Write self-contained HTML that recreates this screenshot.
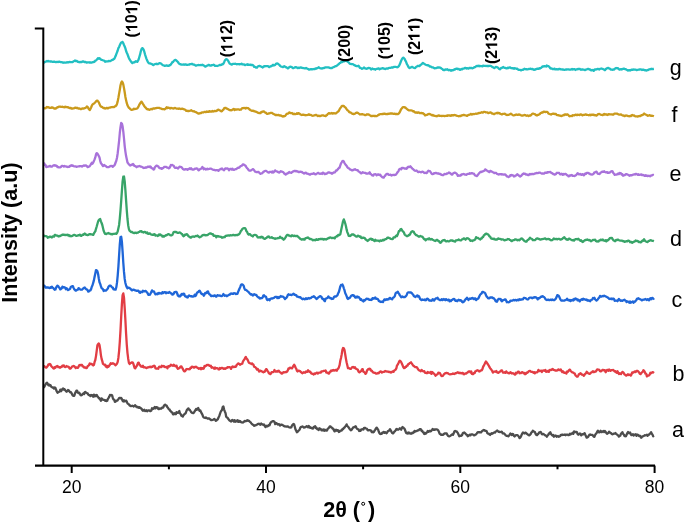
<!DOCTYPE html>
<html><head><meta charset="utf-8"><style>
html,body{margin:0;padding:0;background:#fff;}
svg{display:block;will-change:transform;}
text{font-family:"Liberation Sans",sans-serif;fill:#000;}
.tl{font-size:17.5px;}
.cl{font-size:21.5px;}
.ml{font-size:16px;font-weight:bold;}
.at{font-size:21.6px;font-weight:bold;}
</style></head><body>
<svg width="685" height="523" viewBox="0 0 685 523">
<rect width="685" height="523" fill="#fff"/>
<polyline fill="none" stroke="#4D4D4D" stroke-width="2.3" stroke-linejoin="round" points="43.5,387.6 44.2,386.9 44.9,385.6 45.6,384.3 46.3,383.2 47.0,382.7 47.7,383.9 48.4,385.3 49.1,384.5 49.8,385.5 50.5,385.1 51.2,386.7 51.9,387.0 52.6,387.7 53.3,387.5 54.0,388.6 54.7,387.4 55.4,387.8 56.1,389.8 56.8,391.5 57.5,392.7 58.2,392.2 58.9,392.0 59.6,391.3 60.3,389.6 61.0,391.2 61.7,390.3 62.4,388.9 63.1,388.4 63.8,389.6 64.5,389.2 65.2,390.3 65.9,391.1 66.6,391.8 67.3,391.1 68.0,390.0 68.7,390.3 69.4,391.4 70.1,392.3 70.8,392.0 71.5,393.1 72.2,394.6 72.9,395.7 73.6,395.9 74.3,395.8 75.0,393.4 75.7,392.2 76.4,390.6 77.1,390.6 77.8,392.5 78.5,393.0 79.2,392.7 79.9,393.8 80.6,395.1 81.3,395.3 82.0,394.9 82.7,394.0 83.4,393.5 84.1,394.0 84.8,392.1 85.5,392.0 86.2,392.7 86.9,393.1 87.6,393.4 88.3,394.6 89.0,395.1 89.7,395.2 90.4,396.1 91.1,394.9 91.8,395.6 92.5,395.2 93.2,396.7 93.9,394.7 94.6,396.4 95.3,395.2 96.0,396.1 96.7,394.9 97.4,396.2 98.1,397.0 98.8,398.3 99.5,398.2 100.2,399.5 100.9,400.8 101.6,398.4 102.3,399.0 103.0,399.9 103.7,399.9 104.4,399.9 105.1,400.7 105.8,400.2 106.5,401.1 107.2,400.8 107.9,398.9 108.6,397.8 109.3,396.6 110.0,394.9 110.7,395.4 111.4,395.0 112.1,395.3 112.8,397.9 113.5,399.4 114.2,399.7 114.9,401.9 115.6,401.7 116.3,400.6 117.0,400.7 117.7,400.2 118.4,399.2 119.1,398.1 119.8,397.8 120.5,398.3 121.2,397.9 121.9,399.0 122.6,400.7 123.3,401.5 124.0,400.2 124.7,401.4 125.4,401.2 126.1,400.6 126.8,401.7 127.5,403.4 128.2,404.0 128.9,404.3 129.6,405.5 130.3,405.4 131.0,406.2 131.7,406.0 132.4,405.7 133.1,406.0 133.8,406.5 134.5,405.8 135.2,405.2 135.9,406.5 136.6,406.3 137.3,407.4 138.0,407.0 138.7,407.8 139.4,407.1 140.1,407.7 140.8,408.2 141.5,408.7 142.2,409.9 142.9,410.7 143.6,410.2 144.3,409.8 145.0,411.0 145.7,410.9 146.4,410.2 147.1,411.2 147.8,410.7 148.5,410.3 149.2,410.3 149.9,411.1 150.6,411.1 151.3,410.6 152.0,408.3 152.7,408.8 153.4,408.9 154.1,408.0 154.8,406.9 155.5,408.4 156.2,407.1 156.9,407.5 157.6,407.5 158.3,409.0 159.0,409.0 159.7,408.5 160.4,408.4 161.1,408.8 161.8,408.1 162.5,407.3 163.2,407.5 163.9,405.8 164.6,404.8 165.3,404.7 166.0,405.6 166.7,405.7 167.4,407.2 168.1,408.0 168.8,409.3 169.5,409.3 170.2,410.9 170.9,411.3 171.6,412.2 172.3,412.6 173.0,414.4 173.7,414.4 174.4,413.3 175.1,413.6 175.8,414.3 176.5,412.2 177.2,412.5 177.9,412.9 178.6,412.1 179.3,411.0 180.0,413.5 180.7,414.1 181.4,415.7 182.1,416.1 182.8,416.6 183.5,415.0 184.2,414.5 184.9,413.8 185.6,413.3 186.3,411.4 187.0,409.8 187.7,409.1 188.4,408.4 189.1,409.6 189.8,409.9 190.5,411.0 191.2,412.1 191.9,412.8 192.6,412.9 193.3,413.2 194.0,412.5 194.7,411.2 195.4,410.3 196.1,408.9 196.8,409.7 197.5,409.3 198.2,408.0 198.9,409.6 199.6,410.8 200.3,410.4 201.0,411.9 201.7,413.4 202.4,414.6 203.1,416.7 203.8,417.4 204.5,417.7 205.2,418.0 205.9,417.4 206.6,417.9 207.3,418.5 208.0,418.6 208.7,418.3 209.4,418.8 210.1,419.3 210.8,420.0 211.5,420.0 212.2,420.0 212.9,419.8 213.6,419.4 214.3,418.9 215.0,419.5 215.7,420.8 216.4,420.7 217.1,419.7 217.8,419.2 218.5,417.5 219.2,416.2 219.9,414.1 220.6,412.0 221.3,410.8 222.0,410.0 222.7,407.0 223.4,406.4 224.1,409.6 224.8,411.4 225.5,412.9 226.2,416.7 226.9,417.4 227.6,417.7 228.3,419.0 229.0,419.9 229.7,420.6 230.4,421.1 231.1,421.5 231.8,420.3 232.5,419.9 233.2,420.9 233.9,421.6 234.6,420.1 235.3,421.7 236.0,421.3 236.7,421.4 237.4,420.2 238.1,421.9 238.8,420.8 239.5,421.7 240.2,421.1 240.9,422.0 241.6,422.4 242.3,422.4 243.0,422.5 243.7,422.1 244.4,421.1 245.1,420.9 245.8,421.3 246.5,421.0 247.2,420.1 247.9,420.8 248.6,420.6 249.3,421.2 250.0,421.9 250.7,422.4 251.4,423.5 252.1,424.1 252.8,424.8 253.5,424.8 254.2,425.9 254.9,425.3 255.6,425.4 256.3,424.8 257.0,424.7 257.7,424.1 258.4,423.8 259.1,423.7 259.8,424.5 260.5,424.8 261.2,423.5 261.9,424.1 262.6,424.3 263.3,425.0 264.0,424.4 264.7,425.6 265.4,427.1 266.1,426.4 266.8,425.7 267.5,426.4 268.2,425.8 268.9,424.9 269.6,425.2 270.3,423.2 271.0,422.3 271.7,421.7 272.4,421.4 273.1,421.1 273.8,421.4 274.5,421.7 275.2,424.1 275.9,423.2 276.6,423.1 277.3,424.0 278.0,424.5 278.7,424.1 279.4,424.5 280.1,425.5 280.8,424.9 281.5,424.6 282.2,424.9 282.9,425.3 283.6,425.7 284.3,426.2 285.0,426.5 285.7,426.3 286.4,426.7 287.1,426.6 287.8,426.3 288.5,426.9 289.2,427.3 289.9,427.5 290.6,427.5 291.3,427.3 292.0,425.6 292.7,424.8 293.4,424.0 294.1,424.3 294.8,426.7 295.5,429.4 296.2,430.7 296.9,432.2 297.6,431.7 298.3,430.9 299.0,430.2 299.7,429.4 300.4,427.5 301.1,426.8 301.8,426.8 302.5,426.4 303.2,427.0 303.9,427.6 304.6,427.4 305.3,427.1 306.0,426.8 306.7,426.1 307.4,426.8 308.1,427.3 308.8,426.0 309.5,426.7 310.2,427.8 310.9,427.5 311.6,428.1 312.3,428.4 313.0,428.6 313.7,427.0 314.4,427.0 315.1,426.1 315.8,428.1 316.5,427.8 317.2,429.1 317.9,429.3 318.6,430.1 319.3,428.3 320.0,429.1 320.7,429.0 321.4,430.2 322.1,429.6 322.8,430.4 323.5,429.5 324.2,430.7 324.9,429.8 325.6,430.2 326.3,430.7 327.0,430.5 327.7,428.7 328.4,428.4 329.1,427.5 329.8,426.4 330.5,426.3 331.2,427.4 331.9,427.6 332.6,428.7 333.3,428.7 334.0,430.6 334.7,431.4 335.4,430.1 336.1,429.7 336.8,430.7 337.5,430.2 338.2,430.4 338.9,432.0 339.6,431.7 340.3,430.7 341.0,430.6 341.7,430.6 342.4,429.1 343.1,429.2 343.8,427.9 344.5,427.6 345.2,426.5 345.9,425.8 346.6,424.4 347.3,426.1 348.0,426.6 348.7,427.5 349.4,428.7 350.1,429.4 350.8,430.3 351.5,429.9 352.2,428.8 352.9,427.8 353.6,427.3 354.3,427.0 355.0,427.1 355.7,426.3 356.4,427.8 357.1,428.8 357.8,429.2 358.5,429.3 359.2,431.0 359.9,430.6 360.6,430.8 361.3,429.3 362.0,429.5 362.7,429.2 363.4,429.5 364.1,427.8 364.8,427.8 365.5,428.3 366.2,428.5 366.9,428.8 367.6,430.1 368.3,430.4 369.0,430.2 369.7,430.1 370.4,430.3 371.1,430.8 371.8,432.1 372.5,431.7 373.2,432.3 373.9,431.8 374.6,430.7 375.3,429.6 376.0,428.3 376.7,427.6 377.4,428.7 378.1,429.5 378.8,431.8 379.5,433.3 380.2,434.1 380.9,433.7 381.6,433.9 382.3,432.7 383.0,432.6 383.7,431.9 384.4,432.8 385.1,432.2 385.8,432.8 386.5,433.2 387.2,432.4 387.9,431.2 388.6,431.0 389.3,430.2 390.0,429.2 390.7,430.3 391.4,431.6 392.1,432.8 392.8,433.4 393.5,433.1 394.2,431.7 394.9,431.3 395.6,430.4 396.3,429.1 397.0,429.0 397.7,429.7 398.4,429.6 399.1,429.0 399.8,428.3 400.5,429.0 401.2,429.7 401.9,427.8 402.6,427.0 403.3,427.7 404.0,428.3 404.7,429.1 405.4,431.0 406.1,432.9 406.8,433.3 407.5,433.5 408.2,432.5 408.9,433.3 409.6,432.8 410.3,433.5 411.0,433.8 411.7,433.4 412.4,432.6 413.1,433.0 413.8,432.4 414.5,430.9 415.2,431.6 415.9,431.1 416.6,431.1 417.3,430.5 418.0,430.5 418.7,430.2 419.4,429.4 420.1,429.1 420.8,429.1 421.5,430.8 422.2,430.7 422.9,432.3 423.6,432.3 424.3,434.0 425.0,433.0 425.7,433.7 426.4,432.9 427.1,432.2 427.8,430.9 428.5,431.8 429.2,431.4 429.9,430.7 430.6,431.4 431.3,430.8 432.0,430.0 432.7,429.0 433.4,429.9 434.1,429.6 434.8,429.8 435.5,429.3 436.2,429.3 436.9,429.4 437.6,429.8 438.3,430.6 439.0,432.0 439.7,433.8 440.4,434.2 441.1,434.8 441.8,434.6 442.5,434.9 443.2,434.9 443.9,434.0 444.6,433.5 445.3,433.5 446.0,433.3 446.7,433.4 447.4,434.9 448.1,436.0 448.8,436.3 449.5,436.3 450.2,436.0 450.9,435.4 451.6,434.7 452.3,434.4 453.0,434.9 453.7,433.2 454.4,431.4 455.1,430.9 455.8,431.3 456.5,431.3 457.2,432.2 457.9,433.2 458.6,434.7 459.3,436.3 460.0,435.8 460.7,435.7 461.4,435.9 462.1,435.0 462.8,433.3 463.5,432.8 464.2,432.5 464.9,432.9 465.6,433.7 466.3,434.6 467.0,434.8 467.7,436.2 468.4,435.9 469.1,435.2 469.8,434.7 470.5,435.2 471.2,434.3 471.9,434.3 472.6,434.4 473.3,434.9 474.0,435.4 474.7,435.2 475.4,434.6 476.1,434.4 476.8,433.4 477.5,432.3 478.2,432.1 478.9,432.3 479.6,432.2 480.3,432.4 481.0,432.4 481.7,431.6 482.4,430.7 483.1,430.4 483.8,430.0 484.5,430.2 485.2,430.8 485.9,430.8 486.6,431.0 487.3,433.1 488.0,433.6 488.7,433.6 489.4,434.4 490.1,435.0 490.8,433.9 491.5,433.3 492.2,433.8 492.9,433.1 493.6,433.0 494.3,432.3 495.0,432.5 495.7,431.5 496.4,431.2 497.1,430.5 497.8,430.9 498.5,431.8 499.2,431.6 499.9,432.2 500.6,432.0 501.3,431.7 502.0,431.9 502.7,433.4 503.4,433.3 504.1,433.4 504.8,434.2 505.5,435.2 506.2,435.6 506.9,435.9 507.6,435.8 508.3,436.3 509.0,435.7 509.7,434.7 510.4,433.5 511.1,434.5 511.8,435.1 512.5,434.0 513.2,434.1 513.9,435.9 514.6,436.5 515.3,435.8 516.0,435.1 516.7,435.1 517.4,435.1 518.1,435.8 518.8,436.5 519.5,438.1 520.2,437.7 520.9,436.7 521.6,434.8 522.3,433.4 523.0,432.5 523.7,432.9 524.4,433.5 525.1,432.6 525.8,432.6 526.5,433.6 527.2,433.9 527.9,434.6 528.6,435.1 529.3,435.3 530.0,434.8 530.7,434.0 531.4,432.4 532.1,432.0 532.8,430.7 533.5,431.2 534.2,431.7 534.9,432.0 535.6,433.8 536.3,435.0 537.0,435.2 537.7,434.3 538.4,433.8 539.1,432.5 539.8,432.5 540.5,431.9 541.2,432.6 541.9,434.2 542.6,434.3 543.3,433.9 544.0,434.4 544.7,435.0 545.4,435.4 546.1,435.7 546.8,436.7 547.5,435.6 548.2,435.0 548.9,433.5 549.6,433.5 550.3,432.2 551.0,434.0 551.7,434.8 552.4,435.6 553.1,434.9 553.8,436.7 554.5,436.3 555.2,435.5 555.9,435.7 556.6,436.7 557.3,436.3 558.0,436.0 558.7,436.8 559.4,436.4 560.1,436.0 560.8,435.0 561.5,435.0 562.2,434.6 562.9,435.0 563.6,434.8 564.3,434.9 565.0,434.4 565.7,435.2 566.4,434.6 567.1,434.7 567.8,434.7 568.5,435.2 569.2,434.9 569.9,433.8 570.6,434.5 571.3,433.6 572.0,433.5 572.7,432.8 573.4,433.8 574.1,431.4 574.8,431.9 575.5,432.0 576.2,431.9 576.9,432.1 577.6,434.0 578.3,434.7 579.0,434.1 579.7,433.5 580.4,433.7 581.1,435.4 581.8,434.7 582.5,434.2 583.2,434.4 583.9,433.9 584.6,433.1 585.3,434.8 586.0,436.2 586.7,437.7 587.4,437.5 588.1,436.9 588.8,435.7 589.5,434.7 590.2,434.5 590.9,434.9 591.6,434.9 592.3,434.9 593.0,435.6 593.7,436.6 594.4,436.8 595.1,435.0 595.8,433.9 596.5,433.2 597.2,431.7 597.9,430.7 598.6,432.1 599.3,432.4 600.0,431.7 600.7,430.8 601.4,432.1 602.1,432.1 602.8,431.3 603.5,431.0 604.2,432.1 604.9,431.0 605.6,431.7 606.3,433.0 607.0,433.8 607.7,433.3 608.4,432.9 609.1,431.7 609.8,432.3 610.5,433.0 611.2,433.1 611.9,434.2 612.6,434.3 613.3,434.0 614.0,433.6 614.7,433.7 615.4,433.0 616.1,433.8 616.8,434.4 617.5,435.0 618.2,435.4 618.9,436.6 619.6,435.9 620.3,435.6 621.0,433.7 621.7,433.1 622.4,432.1 623.1,433.9 623.8,434.5 624.5,436.0 625.2,435.7 625.9,436.3 626.6,434.8 627.3,433.1 628.0,432.0 628.7,433.0 629.4,433.1 630.1,432.5 630.8,434.3 631.5,435.2 632.2,435.0 632.9,434.1 633.6,435.6 634.3,434.6 635.0,434.6 635.7,434.3 636.4,435.9 637.1,434.7 637.8,434.6 638.5,435.5 639.2,436.0 639.9,435.7 640.6,436.8 641.3,437.7 642.0,436.8 642.7,436.3 643.4,436.1 644.1,435.7 644.8,435.2 645.5,435.3 646.2,435.2 646.9,434.8 647.6,435.8 648.3,434.9 649.0,434.6 649.7,433.9 650.4,433.2 651.1,432.2 651.8,433.7 652.5,434.6 653.2,436.3 653.9,437.0"/><polyline fill="none" stroke="#E23D44" stroke-width="2.3" stroke-linejoin="round" points="43.5,366.0 44.2,366.1 44.9,366.8 45.6,367.4 46.3,367.6 47.0,366.9 47.7,366.0 48.4,364.4 49.1,364.7 49.8,364.0 50.5,364.5 51.2,366.0 51.9,366.9 52.6,367.4 53.3,368.3 54.0,368.6 54.7,367.1 55.4,367.7 56.1,366.5 56.8,366.2 57.5,366.0 58.2,367.2 58.9,367.0 59.6,367.5 60.3,367.6 61.0,366.9 61.7,366.8 62.4,365.6 63.1,366.1 63.8,365.4 64.5,366.7 65.2,367.1 65.9,366.6 66.6,366.0 67.3,366.6 68.0,366.7 68.7,366.8 69.4,368.2 70.1,368.7 70.8,368.3 71.5,367.3 72.2,366.3 72.9,366.4 73.6,365.9 74.3,366.3 75.0,367.1 75.7,368.0 76.4,367.5 77.1,367.5 77.8,367.9 78.5,366.8 79.2,365.3 79.9,364.9 80.6,365.3 81.3,364.8 82.0,364.9 82.7,366.4 83.4,366.5 84.1,367.5 84.8,367.4 85.5,367.5 86.2,368.1 86.9,367.9 87.6,366.2 88.3,365.8 89.0,365.1 89.7,363.4 90.4,364.0 91.1,364.0 91.8,363.9 92.5,364.9 93.2,365.5 93.9,364.9 94.6,361.9 95.3,360.0 96.0,356.1 96.7,350.8 97.4,345.3 98.1,344.0 98.8,343.4 99.5,345.0 100.2,349.4 100.9,355.1 101.6,358.9 102.3,361.1 103.0,363.9 103.7,364.4 104.4,364.9 105.1,364.7 105.8,366.6 106.5,365.9 107.2,367.4 107.9,365.9 108.6,366.7 109.3,365.7 110.0,364.6 110.7,363.3 111.4,363.9 112.1,363.5 112.8,363.2 113.5,363.7 114.2,363.9 114.9,364.7 115.6,365.3 116.3,364.4 117.0,363.7 117.7,361.9 118.4,357.7 119.1,351.1 119.8,341.9 120.5,330.4 121.2,316.6 121.9,304.1 122.6,295.1 123.3,293.4 124.0,297.7 124.7,308.2 125.4,320.3 126.1,333.7 126.8,345.0 127.5,353.1 128.2,358.7 128.9,362.9 129.6,364.0 130.3,363.1 131.0,362.9 131.7,362.3 132.4,362.3 133.1,363.1 133.8,365.1 134.5,367.8 135.2,368.4 135.9,367.1 136.6,366.2 137.3,364.6 138.0,362.9 138.7,362.7 139.4,364.7 140.1,365.0 140.8,366.4 141.5,366.7 142.2,366.8 142.9,365.8 143.6,367.4 144.3,367.2 145.0,367.3 145.7,367.6 146.4,368.1 147.1,367.8 147.8,367.3 148.5,367.4 149.2,366.8 149.9,367.1 150.6,366.7 151.3,367.2 152.0,366.6 152.7,366.8 153.4,366.1 154.1,365.7 154.8,366.2 155.5,368.3 156.2,368.6 156.9,368.6 157.6,368.4 158.3,368.7 159.0,366.9 159.7,366.7 160.4,367.0 161.1,367.1 161.8,365.8 162.5,366.2 163.2,366.5 163.9,365.9 164.6,366.7 165.3,367.2 166.0,367.0 166.7,366.8 167.4,368.4 168.1,366.3 168.8,366.1 169.5,366.5 170.2,365.9 170.9,364.7 171.6,365.3 172.3,365.4 173.0,365.9 173.7,364.8 174.4,365.2 175.1,366.1 175.8,366.3 176.5,365.6 177.2,367.8 177.9,368.8 178.6,368.3 179.3,368.1 180.0,367.4 180.7,366.4 181.4,366.4 182.1,367.7 182.8,368.8 183.5,370.4 184.2,371.4 184.9,371.3 185.6,370.5 186.3,369.2 187.0,369.0 187.7,369.2 188.4,369.2 189.1,369.3 189.8,369.2 190.5,367.7 191.2,367.8 191.9,366.6 192.6,366.8 193.3,367.1 194.0,367.8 194.7,366.9 195.4,367.0 196.1,366.7 196.8,367.5 197.5,367.7 198.2,368.2 198.9,368.8 199.6,368.5 200.3,367.9 201.0,369.2 201.7,368.0 202.4,368.2 203.1,368.8 203.8,368.4 204.5,366.0 205.2,366.5 205.9,365.9 206.6,365.1 207.3,364.9 208.0,365.1 208.7,365.0 209.4,365.8 210.1,366.0 210.8,365.7 211.5,367.7 212.2,367.2 212.9,367.7 213.6,367.8 214.3,368.7 215.0,367.5 215.7,368.5 216.4,368.2 217.1,368.2 217.8,368.3 218.5,369.4 219.2,369.4 219.9,368.0 220.6,368.7 221.3,368.1 222.0,367.8 222.7,368.0 223.4,368.8 224.1,368.3 224.8,368.8 225.5,368.8 226.2,368.1 226.9,367.9 227.6,367.1 228.3,367.3 229.0,367.2 229.7,367.1 230.4,367.6 231.1,368.9 231.8,367.3 232.5,366.4 233.2,366.9 233.9,367.1 234.6,366.6 235.3,366.9 236.0,366.6 236.7,364.9 237.4,364.2 238.1,363.4 238.8,363.6 239.5,364.2 240.2,364.8 240.9,364.1 241.6,363.9 242.3,363.7 243.0,361.3 243.7,360.3 244.4,359.4 245.1,357.9 245.8,356.9 246.5,358.5 247.2,359.1 247.9,360.3 248.6,362.2 249.3,363.0 250.0,363.3 250.7,363.3 251.4,364.1 252.1,363.4 252.8,364.3 253.5,364.8 254.2,366.8 254.9,366.8 255.6,367.5 256.3,368.4 257.0,369.6 257.7,368.9 258.4,370.0 259.1,371.6 259.8,370.8 260.5,370.7 261.2,371.2 261.9,371.4 262.6,372.0 263.3,372.3 264.0,371.7 264.7,371.9 265.4,370.3 266.1,369.1 266.8,369.5 267.5,370.9 268.2,371.7 268.9,373.3 269.6,373.4 270.3,374.1 271.0,373.4 271.7,372.2 272.4,372.1 273.1,372.1 273.8,371.6 274.5,370.0 275.2,371.6 275.9,371.6 276.6,371.5 277.3,371.0 278.0,371.6 278.7,370.7 279.4,371.7 280.1,372.3 280.8,372.6 281.5,373.6 282.2,373.6 282.9,372.7 283.6,372.1 284.3,372.4 285.0,372.3 285.7,371.9 286.4,372.1 287.1,371.6 287.8,370.4 288.5,368.5 289.2,368.7 289.9,367.6 290.6,368.0 291.3,368.1 292.0,368.3 292.7,367.2 293.4,365.8 294.1,364.8 294.8,365.7 295.5,367.5 296.2,368.7 296.9,370.7 297.6,371.5 298.3,370.7 299.0,370.6 299.7,371.1 300.4,371.4 301.1,372.2 301.8,372.8 302.5,373.3 303.2,372.6 303.9,372.1 304.6,372.6 305.3,372.6 306.0,371.5 306.7,371.8 307.4,371.8 308.1,370.3 308.8,371.3 309.5,371.8 310.2,371.7 310.9,372.9 311.6,373.6 312.3,373.6 313.0,374.1 313.7,374.5 314.4,373.4 315.1,374.0 315.8,373.3 316.5,372.9 317.2,372.6 317.9,373.5 318.6,372.8 319.3,372.6 320.0,372.7 320.7,372.6 321.4,371.4 322.1,371.4 322.8,371.4 323.5,370.9 324.2,370.8 324.9,370.9 325.6,370.4 326.3,372.6 327.0,372.5 327.7,372.7 328.4,373.6 329.1,373.6 329.8,371.9 330.5,371.6 331.2,370.4 331.9,371.0 332.6,370.3 333.3,369.9 334.0,370.7 334.7,370.5 335.4,370.0 336.1,370.1 336.8,370.7 337.5,369.1 338.2,368.7 338.9,367.2 339.6,365.1 340.3,360.8 341.0,358.0 341.7,354.4 342.4,349.9 343.1,348.0 343.8,348.3 344.5,349.9 345.2,354.2 345.9,358.6 346.6,362.2 347.3,365.2 348.0,368.2 348.7,368.1 349.4,368.4 350.1,368.8 350.8,368.9 351.5,368.1 352.2,367.2 352.9,367.0 353.6,367.1 354.3,367.9 355.0,367.3 355.7,368.6 356.4,369.0 357.1,369.3 357.8,369.8 358.5,371.5 359.2,372.4 359.9,372.0 360.6,371.5 361.3,370.9 362.0,369.3 362.7,369.1 363.4,371.7 364.1,372.0 364.8,372.6 365.5,373.8 366.2,373.3 366.9,370.9 367.6,369.7 368.3,369.0 369.0,369.4 369.7,368.6 370.4,369.1 371.1,370.7 371.8,370.7 372.5,371.8 373.2,372.6 373.9,372.7 374.6,372.9 375.3,373.0 376.0,373.5 376.7,373.6 377.4,373.4 378.1,372.8 378.8,373.2 379.5,372.2 380.2,371.6 380.9,371.4 381.6,372.5 382.3,372.4 383.0,371.8 383.7,371.8 384.4,371.8 385.1,371.0 385.8,371.3 386.5,371.4 387.2,371.7 387.9,371.5 388.6,371.9 389.3,372.1 390.0,371.8 390.7,372.5 391.4,372.4 392.1,371.7 392.8,371.3 393.5,371.9 394.2,370.5 394.9,370.2 395.6,369.6 396.3,368.4 397.0,365.5 397.7,364.6 398.4,363.3 399.1,361.7 399.8,360.6 400.5,361.1 401.2,362.1 401.9,363.7 402.6,365.3 403.3,367.2 404.0,368.2 404.7,368.0 405.4,367.0 406.1,366.9 406.8,365.7 407.5,365.7 408.2,364.2 408.9,364.0 409.6,363.1 410.3,362.9 411.0,362.3 411.7,363.4 412.4,364.4 413.1,365.5 413.8,366.0 414.5,366.5 415.2,367.1 415.9,367.1 416.6,367.1 417.3,367.9 418.0,369.2 418.7,370.2 419.4,370.4 420.1,370.8 420.8,371.2 421.5,370.0 422.2,370.5 422.9,371.1 423.6,371.3 424.3,371.2 425.0,372.7 425.7,372.9 426.4,373.0 427.1,373.1 427.8,371.9 428.5,372.7 429.2,372.8 429.9,372.4 430.6,371.9 431.3,373.9 432.0,372.0 432.7,372.5 433.4,373.5 434.1,373.7 434.8,374.5 435.5,375.7 436.2,375.1 436.9,374.5 437.6,374.2 438.3,372.7 439.0,372.8 439.7,372.9 440.4,374.0 441.1,375.6 441.8,376.1 442.5,375.9 443.2,375.6 443.9,374.2 444.6,373.8 445.3,373.2 446.0,373.0 446.7,373.0 447.4,373.1 448.1,373.4 448.8,374.0 449.5,374.3 450.2,374.3 450.9,374.2 451.6,374.2 452.3,374.0 453.0,373.5 453.7,373.7 454.4,374.0 455.1,373.3 455.8,373.5 456.5,372.8 457.2,372.6 457.9,372.2 458.6,372.9 459.3,373.2 460.0,372.7 460.7,373.0 461.4,373.4 462.1,372.8 462.8,372.8 463.5,374.2 464.2,374.3 464.9,373.5 465.6,373.3 466.3,373.6 467.0,372.7 467.7,372.4 468.4,371.6 469.1,371.4 469.8,371.3 470.5,372.5 471.2,371.4 471.9,373.9 472.6,374.1 473.3,374.0 474.0,372.8 474.7,373.0 475.4,371.3 476.1,371.0 476.8,370.5 477.5,370.2 478.2,370.5 478.9,371.3 479.6,371.5 480.3,370.6 481.0,370.5 481.7,370.3 482.4,369.1 483.1,366.9 483.8,365.7 484.5,364.3 485.2,362.8 485.9,361.5 486.6,362.3 487.3,363.4 488.0,364.6 488.7,365.4 489.4,366.9 490.1,368.1 490.8,369.0 491.5,369.9 492.2,371.0 492.9,372.6 493.6,371.7 494.3,371.7 495.0,371.5 495.7,371.8 496.4,371.0 497.1,372.4 497.8,372.6 498.5,372.9 499.2,372.0 499.9,371.7 500.6,370.9 501.3,370.4 502.0,370.4 502.7,372.2 503.4,372.7 504.1,372.6 504.8,372.1 505.5,372.9 506.2,371.4 506.9,372.4 507.6,372.6 508.3,373.2 509.0,373.3 509.7,373.1 510.4,372.1 511.1,372.8 511.8,373.5 512.5,373.2 513.2,373.3 513.9,373.8 514.6,374.5 515.3,374.5 516.0,372.8 516.7,373.3 517.4,372.4 518.1,371.6 518.8,371.6 519.5,373.2 520.2,372.9 520.9,373.2 521.6,372.5 522.3,372.1 523.0,372.7 523.7,373.3 524.4,372.9 525.1,374.2 525.8,373.9 526.5,372.7 527.2,372.8 527.9,372.3 528.6,371.4 529.3,371.1 530.0,370.8 530.7,371.6 531.4,371.8 532.1,372.0 532.8,372.0 533.5,372.8 534.2,372.1 534.9,373.3 535.6,372.5 536.3,372.4 537.0,372.3 537.7,371.8 538.4,369.9 539.1,370.8 539.8,371.1 540.5,370.8 541.2,370.6 541.9,372.0 542.6,370.6 543.3,370.6 544.0,370.4 544.7,370.9 545.4,369.9 546.1,371.8 546.8,371.3 547.5,371.6 548.2,370.7 548.9,371.9 549.6,370.3 550.3,369.8 551.0,369.8 551.7,370.0 552.4,368.9 553.1,369.3 553.8,370.0 554.5,370.2 555.2,370.5 555.9,370.4 556.6,370.7 557.3,370.5 558.0,369.6 558.7,369.4 559.4,370.2 560.1,370.0 560.8,369.5 561.5,371.1 562.2,372.0 562.9,371.3 563.6,372.2 564.3,372.9 565.0,372.6 565.7,372.7 566.4,373.6 567.1,371.5 567.8,371.9 568.5,370.8 569.2,370.0 569.9,369.6 570.6,370.9 571.3,371.5 572.0,372.4 572.7,372.4 573.4,372.7 574.1,373.3 574.8,373.6 575.5,375.4 576.2,376.0 576.9,376.6 577.6,376.6 578.3,375.5 579.0,374.1 579.7,374.0 580.4,373.1 581.1,373.6 581.8,374.7 582.5,374.6 583.2,375.2 583.9,375.8 584.6,374.6 585.3,373.8 586.0,373.2 586.7,371.8 587.4,372.4 588.1,373.2 588.8,373.5 589.5,373.9 590.2,373.7 590.9,372.6 591.6,372.4 592.3,371.8 593.0,371.3 593.7,372.2 594.4,371.9 595.1,371.6 595.8,371.5 596.5,370.5 597.2,369.4 597.9,369.7 598.6,369.6 599.3,369.8 600.0,371.1 600.7,371.3 601.4,371.1 602.1,370.2 602.8,369.8 603.5,370.1 604.2,370.5 604.9,370.2 605.6,372.2 606.3,371.3 607.0,370.0 607.7,370.0 608.4,370.8 609.1,369.5 609.8,369.9 610.5,370.9 611.2,370.2 611.9,370.1 612.6,370.1 613.3,369.9 614.0,370.7 614.7,371.5 615.4,371.1 616.1,372.3 616.8,372.7 617.5,371.2 618.2,372.8 618.9,374.0 619.6,373.2 620.3,373.7 621.0,374.1 621.7,372.7 622.4,371.9 623.1,372.2 623.8,373.1 624.5,374.4 625.2,374.7 625.9,375.5 626.6,375.5 627.3,374.7 628.0,374.3 628.7,375.0 629.4,374.9 630.1,374.6 630.8,375.6 631.5,374.4 632.2,372.4 632.9,372.5 633.6,372.5 634.3,371.6 635.0,371.5 635.7,372.1 636.4,371.0 637.1,371.0 637.8,370.9 638.5,371.7 639.2,372.6 639.9,373.8 640.6,374.1 641.3,373.1 642.0,372.2 642.7,371.9 643.4,370.3 644.1,370.7 644.8,372.0 645.5,373.7 646.2,373.9 646.9,376.4 647.6,375.7 648.3,375.7 649.0,375.4 649.7,374.5 650.4,372.8 651.1,373.3 651.8,372.6 652.5,372.1 653.2,372.4 653.9,373.1"/><polyline fill="none" stroke="#1F66D8" stroke-width="2.3" stroke-linejoin="round" points="43.5,286.0 44.2,285.6 44.9,286.4 45.6,287.6 46.3,287.4 47.0,287.6 47.7,287.3 48.4,287.7 49.1,287.9 49.8,288.1 50.5,287.3 51.2,287.7 51.9,286.7 52.6,287.5 53.3,288.1 54.0,289.0 54.7,289.8 55.4,289.5 56.1,287.5 56.8,286.4 57.5,285.6 58.2,286.1 58.9,287.3 59.6,287.9 60.3,289.4 61.0,289.0 61.7,288.4 62.4,286.6 63.1,287.5 63.8,287.1 64.5,287.3 65.2,287.7 65.9,289.2 66.6,288.2 67.3,289.1 68.0,290.1 68.7,289.7 69.4,289.3 70.1,288.8 70.8,286.9 71.5,286.7 72.2,286.2 72.9,286.1 73.6,287.9 74.3,289.3 75.0,289.9 75.7,290.7 76.4,290.4 77.1,289.8 77.8,289.7 78.5,288.2 79.2,288.3 79.9,289.3 80.6,289.6 81.3,289.7 82.0,289.6 82.7,289.0 83.4,288.2 84.1,287.8 84.8,287.5 85.5,288.6 86.2,289.3 86.9,289.4 87.6,290.3 88.3,291.6 89.0,291.4 89.7,290.4 90.4,290.4 91.1,289.1 91.8,286.7 92.5,285.3 93.2,282.9 93.9,280.4 94.6,276.8 95.3,273.4 96.0,270.1 96.7,270.4 97.4,271.3 98.1,274.0 98.8,278.5 99.5,282.2 100.2,283.9 100.9,286.2 101.6,288.1 102.3,288.6 103.0,289.3 103.7,291.0 104.4,290.4 105.1,290.6 105.8,290.7 106.5,289.9 107.2,289.3 107.9,288.4 108.6,286.5 109.3,285.9 110.0,285.6 110.7,285.6 111.4,286.7 112.1,287.3 112.8,287.5 113.5,289.4 114.2,289.3 114.9,289.6 115.6,289.7 116.3,287.3 117.0,282.7 117.7,275.6 118.4,266.6 119.1,255.3 119.8,244.3 120.5,237.0 121.2,236.7 121.9,241.8 122.6,251.6 123.3,262.7 124.0,271.9 124.7,278.9 125.4,283.0 126.1,285.5 126.8,287.2 127.5,288.3 128.2,287.6 128.9,287.7 129.6,288.0 130.3,288.8 131.0,289.3 131.7,290.3 132.4,290.3 133.1,289.6 133.8,289.9 134.5,290.0 135.2,290.4 135.9,290.5 136.6,290.9 137.3,290.9 138.0,290.6 138.7,291.0 139.4,292.4 140.1,292.8 140.8,291.7 141.5,292.2 142.2,292.2 142.9,290.8 143.6,291.1 144.3,291.4 145.0,291.2 145.7,290.9 146.4,291.8 147.1,292.4 147.8,293.6 148.5,294.9 149.2,294.3 149.9,294.7 150.6,293.5 151.3,292.1 152.0,290.4 152.7,291.5 153.4,291.3 154.1,291.6 154.8,293.3 155.5,294.3 156.2,294.1 156.9,293.6 157.6,294.3 158.3,293.0 159.0,293.5 159.7,293.0 160.4,293.3 161.1,293.3 161.8,293.6 162.5,292.1 163.2,293.0 163.9,292.5 164.6,292.1 165.3,292.1 166.0,293.2 166.7,292.5 167.4,292.7 168.1,292.9 168.8,292.5 169.5,292.0 170.2,292.7 170.9,293.4 171.6,293.5 172.3,294.7 173.0,294.5 173.7,293.8 174.4,292.1 175.1,292.2 175.8,291.9 176.5,291.9 177.2,293.5 177.9,295.5 178.6,296.3 179.3,295.8 180.0,296.5 180.7,295.7 181.4,294.2 182.1,293.9 182.8,294.6 183.5,293.6 184.2,293.8 184.9,296.0 185.6,296.5 186.3,296.4 187.0,297.3 187.7,297.5 188.4,296.0 189.1,295.5 189.8,296.0 190.5,296.2 191.2,296.5 191.9,296.1 192.6,296.6 193.3,296.6 194.0,296.2 194.7,294.6 195.4,296.0 196.1,295.2 196.8,293.1 197.5,292.2 198.2,292.2 198.9,291.1 199.6,290.7 200.3,291.8 201.0,293.2 201.7,294.0 202.4,293.8 203.1,294.6 203.8,295.7 204.5,294.7 205.2,292.8 205.9,292.9 206.6,293.1 207.3,291.6 208.0,291.5 208.7,293.4 209.4,294.3 210.1,294.5 210.8,295.7 211.5,296.2 212.2,295.8 212.9,295.9 213.6,296.0 214.3,295.5 215.0,295.4 215.7,296.5 216.4,296.6 217.1,295.5 217.8,295.1 218.5,295.6 219.2,295.6 219.9,295.5 220.6,296.0 221.3,296.2 222.0,296.2 222.7,295.2 223.4,294.0 224.1,295.2 224.8,295.8 225.5,295.5 226.2,295.4 226.9,296.2 227.6,295.5 228.3,295.3 229.0,294.8 229.7,294.7 230.4,293.8 231.1,293.4 231.8,293.8 232.5,293.6 233.2,293.9 233.9,293.2 234.6,293.4 235.3,293.4 236.0,294.1 236.7,293.7 237.4,293.8 238.1,291.9 238.8,290.3 239.5,288.5 240.2,287.2 240.9,285.1 241.6,284.4 242.3,284.4 243.0,284.9 243.7,285.9 244.4,288.5 245.1,289.8 245.8,289.9 246.5,290.2 247.2,290.9 247.9,291.5 248.6,292.1 249.3,292.9 250.0,293.8 250.7,294.5 251.4,294.1 252.1,294.8 252.8,295.6 253.5,294.7 254.2,294.2 254.9,294.7 255.6,294.9 256.3,294.9 257.0,296.2 257.7,296.8 258.4,297.5 259.1,297.5 259.8,298.5 260.5,298.4 261.2,298.1 261.9,298.1 262.6,297.5 263.3,295.6 264.0,295.3 264.7,296.4 265.4,296.5 266.1,297.0 266.8,299.4 267.5,300.1 268.2,299.5 268.9,299.2 269.6,300.2 270.3,298.8 271.0,298.7 271.7,298.4 272.4,298.5 273.1,298.2 273.8,297.9 274.5,297.5 275.2,296.8 275.9,296.9 276.6,297.0 277.3,298.0 278.0,296.9 278.7,298.0 279.4,297.5 280.1,296.6 280.8,296.0 281.5,296.7 282.2,296.5 282.9,296.7 283.6,297.1 284.3,298.1 285.0,299.0 285.7,298.2 286.4,297.7 287.1,296.8 287.8,295.0 288.5,294.3 289.2,294.7 289.9,294.8 290.6,294.7 291.3,295.1 292.0,294.8 292.7,294.5 293.4,293.6 294.1,294.1 294.8,294.9 295.5,295.0 296.2,295.1 296.9,296.6 297.6,296.6 298.3,296.8 299.0,297.1 299.7,297.4 300.4,297.2 301.1,298.1 301.8,298.6 302.5,299.3 303.2,298.6 303.9,298.9 304.6,299.3 305.3,299.1 306.0,298.1 306.7,299.0 307.4,298.9 308.1,298.2 308.8,298.0 309.5,298.5 310.2,298.2 310.9,298.1 311.6,297.2 312.3,296.9 313.0,296.9 313.7,296.2 314.4,296.7 315.1,297.4 315.8,298.3 316.5,299.0 317.2,298.6 317.9,297.5 318.6,297.3 319.3,296.6 320.0,296.1 320.7,296.4 321.4,296.8 322.1,298.5 322.8,299.0 323.5,298.9 324.2,300.6 324.9,301.2 325.6,298.8 326.3,298.4 327.0,298.2 327.7,297.5 328.4,296.4 329.1,297.6 329.8,297.6 330.5,298.4 331.2,298.1 331.9,299.0 332.6,298.8 333.3,298.6 334.0,296.9 334.7,296.4 335.4,296.5 336.1,296.5 336.8,295.8 337.5,295.2 338.2,293.2 338.9,291.9 339.6,289.2 340.3,286.4 341.0,285.0 341.7,285.4 342.4,284.5 343.1,285.9 343.8,288.3 344.5,290.2 345.2,293.0 345.9,294.4 346.6,296.2 347.3,298.2 348.0,299.0 348.7,298.0 349.4,298.2 350.1,297.4 350.8,296.3 351.5,295.5 352.2,295.2 352.9,295.1 353.6,295.9 354.3,295.7 355.0,297.2 355.7,297.7 356.4,297.5 357.1,296.5 357.8,297.3 358.5,296.9 359.2,297.5 359.9,298.6 360.6,299.8 361.3,299.3 362.0,300.5 362.7,300.8 363.4,301.5 364.1,300.0 364.8,300.5 365.5,299.7 366.2,298.9 366.9,298.7 367.6,299.1 368.3,298.9 369.0,299.6 369.7,299.8 370.4,299.7 371.1,300.0 371.8,299.7 372.5,298.2 373.2,298.1 373.9,298.7 374.6,298.0 375.3,297.4 376.0,298.8 376.7,298.7 377.4,298.8 378.1,299.4 378.8,301.0 379.5,301.0 380.2,301.8 380.9,302.0 381.6,301.7 382.3,301.6 383.0,302.1 383.7,300.5 384.4,299.4 385.1,299.5 385.8,300.0 386.5,299.3 387.2,299.7 387.9,299.2 388.6,299.3 389.3,298.2 390.0,297.9 390.7,298.6 391.4,298.9 392.1,299.4 392.8,298.0 393.5,297.6 394.2,297.0 394.9,295.8 395.6,293.3 396.3,292.6 397.0,292.5 397.7,291.6 398.4,293.0 399.1,293.7 399.8,295.3 400.5,296.1 401.2,297.2 401.9,296.8 402.6,296.5 403.3,297.2 404.0,297.2 404.7,297.2 405.4,296.4 406.1,296.1 406.8,294.7 407.5,292.9 408.2,292.4 408.9,292.3 409.6,292.5 410.3,292.5 411.0,292.5 411.7,292.9 412.4,294.0 413.1,294.6 413.8,296.1 414.5,296.3 415.2,297.0 415.9,296.5 416.6,296.1 417.3,295.4 418.0,296.6 418.7,296.0 419.4,297.2 420.1,299.0 420.8,299.4 421.5,300.1 422.2,299.4 422.9,299.8 423.6,299.8 424.3,300.0 425.0,299.5 425.7,300.2 426.4,299.7 427.1,298.6 427.8,298.8 428.5,299.5 429.2,300.5 429.9,300.4 430.6,300.7 431.3,300.8 432.0,300.4 432.7,299.2 433.4,299.6 434.1,300.6 434.8,299.4 435.5,298.8 436.2,298.3 436.9,298.2 437.6,297.8 438.3,299.4 439.0,299.3 439.7,300.1 440.4,300.2 441.1,299.9 441.8,299.1 442.5,300.1 443.2,299.8 443.9,299.0 444.6,299.6 445.3,300.3 446.0,299.1 446.7,299.6 447.4,300.3 448.1,300.0 448.8,299.6 449.5,301.4 450.2,300.5 450.9,301.0 451.6,300.0 452.3,299.8 453.0,299.3 453.7,298.9 454.4,299.1 455.1,300.5 455.8,300.9 456.5,300.4 457.2,301.2 457.9,300.4 458.6,299.7 459.3,300.0 460.0,300.5 460.7,300.1 461.4,300.6 462.1,301.8 462.8,302.3 463.5,301.8 464.2,301.4 464.9,300.1 465.6,299.2 466.3,298.7 467.0,297.7 467.7,298.9 468.4,300.0 469.1,299.1 469.8,298.5 470.5,298.9 471.2,298.4 471.9,298.6 472.6,297.9 473.3,298.5 474.0,299.2 474.7,298.3 475.4,298.4 476.1,300.1 476.8,299.5 477.5,298.9 478.2,298.7 478.9,297.4 479.6,295.8 480.3,294.5 481.0,293.9 481.7,293.3 482.4,291.8 483.1,291.9 483.8,292.3 484.5,292.5 485.2,293.2 485.9,295.1 486.6,296.5 487.3,297.0 488.0,298.2 488.7,298.3 489.4,298.4 490.1,297.4 490.8,297.7 491.5,297.3 492.2,297.4 492.9,298.1 493.6,298.1 494.3,298.9 495.0,299.8 495.7,301.4 496.4,300.8 497.1,301.7 497.8,299.9 498.5,299.0 499.2,298.9 499.9,299.2 500.6,299.0 501.3,300.7 502.0,301.3 502.7,300.1 503.4,300.1 504.1,299.9 504.8,299.3 505.5,299.3 506.2,300.7 506.9,302.3 507.6,302.0 508.3,302.3 509.0,302.2 509.7,301.8 510.4,300.6 511.1,300.8 511.8,300.7 512.5,300.6 513.2,300.0 513.9,300.0 514.6,300.4 515.3,299.8 516.0,300.2 516.7,300.6 517.4,299.8 518.1,299.7 518.8,300.2 519.5,299.1 520.2,299.8 520.9,299.4 521.6,299.5 522.3,299.4 523.0,299.3 523.7,297.9 524.4,297.8 525.1,298.0 525.8,298.3 526.5,298.9 527.2,299.3 527.9,299.5 528.6,298.7 529.3,297.8 530.0,297.7 530.7,297.6 531.4,297.6 532.1,298.3 532.8,297.9 533.5,297.6 534.2,297.1 534.9,297.6 535.6,297.2 536.3,297.6 537.0,298.1 537.7,299.4 538.4,298.2 539.1,298.4 539.8,297.8 540.5,297.2 541.2,296.5 541.9,296.8 542.6,296.1 543.3,296.7 544.0,297.0 544.7,297.7 545.4,299.1 546.1,299.7 546.8,300.0 547.5,299.9 548.2,299.6 548.9,300.0 549.6,300.1 550.3,299.8 551.0,299.5 551.7,300.1 552.4,299.5 553.1,299.9 553.8,300.2 554.5,300.1 555.2,299.3 555.9,298.6 556.6,297.1 557.3,295.1 558.0,295.4 558.7,295.8 559.4,297.1 560.1,298.8 560.8,299.9 561.5,300.7 562.2,300.5 562.9,300.6 563.6,300.6 564.3,300.7 565.0,300.1 565.7,300.1 566.4,299.6 567.1,298.6 567.8,300.1 568.5,300.2 569.2,300.6 569.9,299.9 570.6,301.1 571.3,300.1 572.0,300.3 572.7,299.8 573.4,300.5 574.1,298.9 574.8,299.5 575.5,298.5 576.2,298.9 576.9,299.1 577.6,300.4 578.3,299.7 579.0,300.2 579.7,301.4 580.4,300.3 581.1,299.7 581.8,299.2 582.5,299.7 583.2,298.6 583.9,299.5 584.6,299.2 585.3,299.6 586.0,299.8 586.7,299.5 587.4,300.6 588.1,300.5 588.8,300.2 589.5,300.9 590.2,301.2 590.9,300.1 591.6,299.6 592.3,299.6 593.0,298.0 593.7,298.4 594.4,297.7 595.1,299.3 595.8,300.0 596.5,300.6 597.2,300.0 597.9,299.2 598.6,298.2 599.3,297.4 600.0,295.9 600.7,296.4 601.4,296.7 602.1,296.3 602.8,296.0 603.5,296.3 604.2,295.6 604.9,296.1 605.6,296.5 606.3,296.7 607.0,297.1 607.7,297.6 608.4,297.9 609.1,298.8 609.8,299.0 610.5,298.9 611.2,298.4 611.9,299.2 612.6,298.7 613.3,298.6 614.0,299.0 614.7,300.9 615.4,300.7 616.1,300.7 616.8,300.6 617.5,301.3 618.2,299.9 618.9,298.9 619.6,299.7 620.3,300.7 621.0,300.9 621.7,300.4 622.4,300.9 623.1,300.2 623.8,300.2 624.5,299.7 625.2,300.7 625.9,300.8 626.6,302.1 627.3,301.4 628.0,301.7 628.7,301.8 629.4,302.7 630.1,301.4 630.8,302.7 631.5,302.1 632.2,302.1 632.9,301.4 633.6,302.7 634.3,301.6 635.0,301.7 635.7,300.8 636.4,300.1 637.1,298.6 637.8,298.6 638.5,298.2 639.2,298.9 639.9,299.2 640.6,299.3 641.3,300.0 642.0,300.4 642.7,299.9 643.4,299.6 644.1,299.7 644.8,299.3 645.5,299.0 646.2,299.6 646.9,300.0 647.6,299.1 648.3,299.5 649.0,300.4 649.7,299.2 650.4,298.1 651.1,299.2 651.8,298.1 652.5,297.9 653.2,298.5 653.9,299.8"/><polyline fill="none" stroke="#38A468" stroke-width="2.3" stroke-linejoin="round" points="43.5,236.3 44.2,235.7 44.9,236.1 45.6,236.1 46.3,236.2 47.0,236.5 47.7,237.7 48.4,237.1 49.1,237.3 49.8,236.6 50.5,236.6 51.2,237.2 51.9,237.5 52.6,236.4 53.3,236.6 54.0,236.7 54.7,235.0 55.4,235.0 56.1,235.5 56.8,235.7 57.5,235.6 58.2,236.3 58.9,236.5 59.6,235.9 60.3,236.0 61.0,235.4 61.7,235.3 62.4,234.6 63.1,234.9 63.8,234.7 64.5,234.9 65.2,235.1 65.9,234.8 66.6,235.0 67.3,234.7 68.0,235.3 68.7,234.9 69.4,236.1 70.1,235.6 70.8,236.3 71.5,236.2 72.2,235.9 72.9,235.5 73.6,235.1 74.3,234.8 75.0,235.0 75.7,235.7 76.4,235.8 77.1,235.6 77.8,235.5 78.5,235.2 79.2,235.3 79.9,234.6 80.6,235.6 81.3,235.9 82.0,235.3 82.7,234.6 83.4,234.8 84.1,234.3 84.8,233.5 85.5,234.3 86.2,234.8 86.9,234.8 87.6,235.2 88.3,235.0 89.0,234.4 89.7,234.1 90.4,234.2 91.1,234.4 91.8,234.4 92.5,234.6 93.2,234.9 93.9,233.4 94.6,232.3 95.3,231.4 96.0,228.8 96.7,226.5 97.4,224.0 98.1,221.5 98.8,220.0 99.5,219.4 100.2,219.0 100.9,221.4 101.6,223.0 102.3,225.0 103.0,227.9 103.7,230.9 104.4,232.6 105.1,233.8 105.8,234.0 106.5,234.0 107.2,233.3 107.9,233.3 108.6,233.0 109.3,233.6 110.0,233.6 110.7,234.2 111.4,234.0 112.1,234.4 112.8,234.0 113.5,233.9 114.2,233.8 114.9,233.7 115.6,233.5 116.3,233.9 117.0,233.1 117.7,231.4 118.4,228.2 119.1,224.9 119.8,218.4 120.5,210.3 121.2,200.9 121.9,190.9 122.6,181.3 123.3,176.7 124.0,176.5 124.7,181.4 125.4,190.1 126.1,200.7 126.8,210.7 127.5,219.0 128.2,225.4 128.9,229.1 129.6,230.8 130.3,231.2 131.0,232.1 131.7,231.8 132.4,232.2 133.1,232.7 133.8,233.1 134.5,233.0 135.2,232.6 135.9,232.8 136.6,233.1 137.3,232.7 138.0,232.6 138.7,232.0 139.4,231.8 140.1,231.3 140.8,231.5 141.5,231.1 142.2,232.2 142.9,232.1 143.6,232.5 144.3,231.9 145.0,231.9 145.7,232.4 146.4,233.1 147.1,232.4 147.8,233.6 148.5,233.9 149.2,233.5 149.9,233.4 150.6,234.1 151.3,234.6 152.0,234.6 152.7,234.9 153.4,234.8 154.1,234.2 154.8,234.4 155.5,235.6 156.2,235.3 156.9,235.4 157.6,236.0 158.3,235.5 159.0,234.5 159.7,235.0 160.4,234.5 161.1,235.4 161.8,235.3 162.5,236.6 163.2,236.0 163.9,236.7 164.6,235.9 165.3,235.8 166.0,235.1 166.7,235.3 167.4,234.6 168.1,234.1 168.8,234.2 169.5,234.5 170.2,235.2 170.9,235.4 171.6,235.4 172.3,234.9 173.0,233.5 173.7,232.0 174.4,231.8 175.1,232.0 175.8,231.9 176.5,232.1 177.2,232.8 177.9,232.9 178.6,232.8 179.3,232.5 180.0,232.6 180.7,233.0 181.4,233.7 182.1,234.1 182.8,235.5 183.5,236.2 184.2,235.8 184.9,234.7 185.6,234.9 186.3,234.3 187.0,234.1 187.7,235.0 188.4,236.3 189.1,236.5 189.8,236.9 190.5,237.6 191.2,237.5 191.9,236.6 192.6,236.6 193.3,236.5 194.0,236.8 194.7,236.6 195.4,236.1 196.1,236.0 196.8,236.2 197.5,235.5 198.2,236.1 198.9,236.9 199.6,237.4 200.3,236.8 201.0,236.7 201.7,236.1 202.4,235.3 203.1,235.0 203.8,235.1 204.5,234.9 205.2,235.1 205.9,235.4 206.6,235.2 207.3,235.1 208.0,234.8 208.7,234.0 209.4,233.7 210.1,233.4 210.8,233.3 211.5,234.0 212.2,234.3 212.9,234.1 213.6,235.8 214.3,235.7 215.0,235.7 215.7,236.1 216.4,237.3 217.1,236.0 217.8,236.3 218.5,236.2 219.2,236.7 219.9,236.6 220.6,236.8 221.3,236.8 222.0,237.7 222.7,237.3 223.4,237.4 224.1,237.0 224.8,237.2 225.5,236.0 226.2,235.9 226.9,235.7 227.6,235.7 228.3,235.3 229.0,235.5 229.7,235.6 230.4,235.2 231.1,235.3 231.8,235.3 232.5,235.1 233.2,234.9 233.9,234.9 234.6,235.3 235.3,235.3 236.0,234.9 236.7,235.2 237.4,235.2 238.1,234.4 238.8,234.5 239.5,233.8 240.2,232.5 240.9,230.9 241.6,230.3 242.3,229.0 243.0,228.6 243.7,228.2 244.4,228.2 245.1,228.2 245.8,229.3 246.5,231.3 247.2,232.1 247.9,233.7 248.6,234.6 249.3,234.1 250.0,234.1 250.7,235.2 251.4,235.5 252.1,235.9 252.8,236.5 253.5,235.3 254.2,235.0 254.9,234.8 255.6,235.0 256.3,235.3 257.0,236.2 257.7,237.4 258.4,237.4 259.1,237.5 259.8,237.2 260.5,237.6 261.2,236.7 261.9,237.4 262.6,236.9 263.3,238.3 264.0,238.5 264.7,238.9 265.4,238.5 266.1,238.1 266.8,237.6 267.5,236.9 268.2,236.6 268.9,236.5 269.6,237.6 270.3,237.6 271.0,237.6 271.7,237.1 272.4,237.9 273.1,238.1 273.8,238.1 274.5,238.7 275.2,238.8 275.9,238.3 276.6,238.5 277.3,238.3 278.0,238.0 278.7,238.2 279.4,237.8 280.1,236.7 280.8,237.5 281.5,238.1 282.2,238.0 282.9,239.0 283.6,239.7 284.3,239.1 285.0,238.2 285.7,237.2 286.4,235.8 287.1,235.0 287.8,234.9 288.5,235.2 289.2,235.7 289.9,235.7 290.6,236.2 291.3,236.3 292.0,235.3 292.7,235.6 293.4,236.0 294.1,236.0 294.8,235.6 295.5,236.1 296.2,236.1 296.9,235.8 297.6,236.3 298.3,236.9 299.0,237.6 299.7,238.2 300.4,239.0 301.1,239.2 301.8,239.7 302.5,239.5 303.2,239.0 303.9,239.6 304.6,239.6 305.3,238.3 306.0,238.1 306.7,237.9 307.4,237.6 308.1,237.5 308.8,238.2 309.5,238.8 310.2,239.2 310.9,238.9 311.6,239.4 312.3,239.7 313.0,240.3 313.7,240.0 314.4,240.0 315.1,240.3 315.8,239.8 316.5,239.2 317.2,239.9 317.9,239.9 318.6,239.1 319.3,239.3 320.0,238.9 320.7,239.0 321.4,238.9 322.1,239.1 322.8,238.9 323.5,239.6 324.2,239.0 324.9,239.3 325.6,239.2 326.3,239.5 327.0,238.9 327.7,238.6 328.4,238.0 329.1,238.1 329.8,237.5 330.5,237.5 331.2,237.8 331.9,238.1 332.6,237.9 333.3,237.9 334.0,238.0 334.7,238.4 335.4,237.1 336.1,236.7 336.8,236.0 337.5,236.3 338.2,234.9 338.9,235.2 339.6,234.7 340.3,234.4 341.0,230.8 341.7,227.4 342.4,224.3 343.1,221.1 343.8,219.4 344.5,221.2 345.2,223.3 345.9,226.0 346.6,229.4 347.3,232.1 348.0,233.7 348.7,235.8 349.4,235.9 350.1,236.0 350.8,235.6 351.5,234.7 352.2,234.3 352.9,234.6 353.6,234.5 354.3,235.3 355.0,235.6 355.7,236.3 356.4,236.6 357.1,236.7 357.8,235.7 358.5,235.9 359.2,236.2 359.9,236.8 360.6,236.5 361.3,238.0 362.0,238.2 362.7,237.6 363.4,237.7 364.1,237.9 364.8,238.1 365.5,239.3 366.2,239.8 366.9,240.4 367.6,241.0 368.3,240.2 369.0,239.7 369.7,239.3 370.4,238.8 371.1,238.6 371.8,239.7 372.5,239.1 373.2,240.1 373.9,240.5 374.6,241.0 375.3,239.7 376.0,240.7 376.7,240.7 377.4,240.6 378.1,240.7 378.8,240.9 379.5,241.4 380.2,240.4 380.9,240.4 381.6,240.9 382.3,240.4 383.0,239.7 383.7,240.3 384.4,239.9 385.1,239.2 385.8,239.1 386.5,238.9 387.2,237.9 387.9,237.6 388.6,237.7 389.3,238.1 390.0,238.3 390.7,238.8 391.4,239.0 392.1,239.2 392.8,238.9 393.5,237.4 394.2,237.4 394.9,237.4 395.6,236.3 396.3,235.6 397.0,236.1 397.7,234.6 398.4,232.5 399.1,230.8 399.8,230.8 400.5,229.3 401.2,228.9 401.9,229.9 402.6,231.3 403.3,231.5 404.0,232.8 404.7,234.5 405.4,235.2 406.1,235.5 406.8,236.2 407.5,236.2 408.2,235.6 408.9,234.9 409.6,235.0 410.3,233.9 411.0,232.3 411.7,231.6 412.4,231.1 413.1,231.6 413.8,231.9 414.5,233.5 415.2,234.1 415.9,235.0 416.6,235.1 417.3,235.7 418.0,236.0 418.7,236.7 419.4,236.6 420.1,236.0 420.8,236.1 421.5,236.6 422.2,236.6 422.9,237.3 423.6,238.5 424.3,239.4 425.0,239.1 425.7,240.3 426.4,239.6 427.1,239.0 427.8,238.8 428.5,239.2 429.2,238.3 429.9,239.3 430.6,239.5 431.3,239.0 432.0,239.2 432.7,239.7 433.4,240.1 434.1,240.5 434.8,240.8 435.5,241.0 436.2,240.1 436.9,239.8 437.6,240.1 438.3,241.0 439.0,241.2 439.7,242.3 440.4,242.8 441.1,242.5 441.8,241.2 442.5,240.6 443.2,240.1 443.9,240.3 444.6,239.9 445.3,240.9 446.0,241.4 446.7,241.3 447.4,240.9 448.1,241.3 448.8,241.3 449.5,241.1 450.2,240.7 450.9,240.3 451.6,240.3 452.3,240.8 453.0,240.7 453.7,241.2 454.4,241.3 455.1,241.6 455.8,240.3 456.5,240.3 457.2,240.2 457.9,240.2 458.6,239.4 459.3,240.0 460.0,240.3 460.7,240.4 461.4,240.1 462.1,239.3 462.8,239.2 463.5,238.4 464.2,238.4 464.9,238.9 465.6,239.7 466.3,238.7 467.0,238.2 467.7,238.3 468.4,238.6 469.1,239.1 469.8,239.8 470.5,240.9 471.2,240.7 471.9,240.5 472.6,241.0 473.3,240.4 474.0,240.2 474.7,239.7 475.4,239.2 476.1,237.2 476.8,237.7 477.5,238.0 478.2,238.0 478.9,238.6 479.6,239.1 480.3,239.5 481.0,238.4 481.7,238.5 482.4,237.2 483.1,237.1 483.8,235.4 484.5,235.1 485.2,234.1 485.9,233.7 486.6,233.7 487.3,234.2 488.0,234.3 488.7,235.2 489.4,236.3 490.1,236.5 490.8,237.9 491.5,238.7 492.2,238.8 492.9,238.6 493.6,239.1 494.3,238.7 495.0,239.5 495.7,239.6 496.4,239.4 497.1,239.5 497.8,238.6 498.5,238.5 499.2,238.9 499.9,238.9 500.6,239.1 501.3,239.5 502.0,239.5 502.7,239.3 503.4,239.5 504.1,240.1 504.8,240.3 505.5,240.0 506.2,239.9 506.9,239.7 507.6,239.0 508.3,239.2 509.0,239.2 509.7,239.8 510.4,240.0 511.1,240.8 511.8,241.2 512.5,240.6 513.2,240.2 513.9,240.1 514.6,239.8 515.3,239.3 516.0,239.4 516.7,239.8 517.4,240.3 518.1,239.9 518.8,239.8 519.5,240.2 520.2,239.5 520.9,238.6 521.6,238.5 522.3,238.7 523.0,239.6 523.7,240.2 524.4,240.9 525.1,241.2 525.8,241.7 526.5,241.7 527.2,240.5 527.9,239.8 528.6,239.6 529.3,238.6 530.0,237.7 530.7,238.4 531.4,238.7 532.1,239.0 532.8,240.2 533.5,240.0 534.2,240.2 534.9,240.2 535.6,239.6 536.3,238.8 537.0,238.4 537.7,238.3 538.4,238.9 539.1,239.0 539.8,239.4 540.5,239.6 541.2,239.4 541.9,239.2 542.6,239.1 543.3,238.9 544.0,238.8 544.7,238.5 545.4,238.4 546.1,239.3 546.8,239.1 547.5,239.1 548.2,238.9 548.9,239.1 549.6,239.2 550.3,239.9 551.0,240.3 551.7,240.2 552.4,240.1 553.1,239.3 553.8,238.4 554.5,239.0 555.2,239.1 555.9,239.0 556.6,238.9 557.3,239.4 558.0,238.9 558.7,238.9 559.4,239.0 560.1,239.4 560.8,239.7 561.5,239.1 562.2,239.1 562.9,238.1 563.6,237.6 564.3,237.1 565.0,238.3 565.7,238.7 566.4,239.6 567.1,239.4 567.8,239.8 568.5,238.8 569.2,238.6 569.9,239.0 570.6,239.5 571.3,239.8 572.0,240.2 572.7,240.3 573.4,239.9 574.1,240.6 574.8,239.8 575.5,239.1 576.2,239.2 576.9,239.0 577.6,239.4 578.3,238.7 579.0,239.5 579.7,239.9 580.4,240.8 581.1,240.3 581.8,241.3 582.5,242.0 583.2,241.7 583.9,240.8 584.6,240.5 585.3,240.0 586.0,240.1 586.7,239.7 587.4,239.5 588.1,240.0 588.8,240.3 589.5,240.0 590.2,240.5 590.9,241.3 591.6,240.8 592.3,240.5 593.0,239.8 593.7,240.0 594.4,239.8 595.1,239.7 595.8,240.9 596.5,241.3 597.2,241.6 597.9,241.2 598.6,241.5 599.3,240.4 600.0,240.3 600.7,239.7 601.4,239.9 602.1,240.2 602.8,239.5 603.5,240.5 604.2,240.7 604.9,240.8 605.6,240.2 606.3,241.4 607.0,240.2 607.7,240.5 608.4,239.7 609.1,239.2 609.8,238.2 610.5,238.0 611.2,238.1 611.9,237.9 612.6,239.2 613.3,240.2 614.0,240.6 614.7,241.1 615.4,241.1 616.1,239.8 616.8,239.8 617.5,240.0 618.2,239.6 618.9,240.2 619.6,240.5 620.3,240.7 621.0,240.7 621.7,240.6 622.4,241.0 623.1,241.0 623.8,241.2 624.5,241.9 625.2,241.6 625.9,241.4 626.6,241.2 627.3,241.3 628.0,240.7 628.7,240.7 629.4,241.1 630.1,242.2 630.8,241.9 631.5,241.9 632.2,242.9 632.9,242.2 633.6,241.9 634.3,241.7 635.0,241.3 635.7,240.4 636.4,241.0 637.1,241.2 637.8,240.9 638.5,241.9 639.2,242.2 639.9,241.8 640.6,242.4 641.3,242.0 642.0,241.0 642.7,240.4 643.4,240.7 644.1,239.2 644.8,240.6 645.5,241.2 646.2,241.6 646.9,241.8 647.6,242.1 648.3,241.2 649.0,241.0 649.7,240.5 650.4,240.2 651.1,240.3 651.8,240.7 652.5,240.8 653.2,240.9 653.9,241.2"/><polyline fill="none" stroke="#A872DA" stroke-width="2.3" stroke-linejoin="round" points="43.5,163.5 44.2,163.3 44.9,165.0 45.6,165.1 46.3,167.1 47.0,166.9 47.7,166.7 48.4,166.5 49.1,166.4 49.8,165.8 50.5,166.2 51.2,166.7 51.9,166.6 52.6,166.0 53.3,165.6 54.0,165.1 54.7,165.7 55.4,165.3 56.1,165.8 56.8,165.9 57.5,167.1 58.2,167.0 58.9,167.4 59.6,167.4 60.3,167.3 61.0,166.9 61.7,165.8 62.4,165.8 63.1,166.0 63.8,166.5 64.5,166.0 65.2,166.4 65.9,166.4 66.6,166.6 67.3,166.9 68.0,167.0 68.7,166.7 69.4,166.9 70.1,166.0 70.8,165.5 71.5,165.2 72.2,165.9 72.9,165.5 73.6,166.2 74.3,166.3 75.0,166.3 75.7,166.4 76.4,166.9 77.1,166.7 77.8,166.5 78.5,166.3 79.2,166.4 79.9,166.1 80.6,166.2 81.3,166.2 82.0,166.6 82.7,166.1 83.4,165.7 84.1,165.4 84.8,165.8 85.5,165.5 86.2,165.5 86.9,166.1 87.6,167.2 88.3,167.0 89.0,166.6 89.7,166.2 90.4,165.1 91.1,163.9 91.8,162.8 92.5,163.7 93.2,162.6 93.9,161.0 94.6,159.4 95.3,157.4 96.0,154.4 96.7,153.1 97.4,153.7 98.1,154.7 98.8,156.1 99.5,157.6 100.2,160.8 100.9,163.1 101.6,164.0 102.3,165.0 103.0,166.0 103.7,165.5 104.4,165.0 105.1,165.7 105.8,166.0 106.5,166.8 107.2,167.2 107.9,167.2 108.6,167.1 109.3,166.8 110.0,166.3 110.7,166.0 111.4,166.1 112.1,165.9 112.8,166.8 113.5,165.9 114.2,165.5 114.9,164.5 115.6,162.5 116.3,160.8 117.0,157.7 117.7,153.2 118.4,147.2 119.1,140.8 119.8,133.0 120.5,127.1 121.2,123.0 121.9,123.6 122.6,126.3 123.3,131.7 124.0,138.5 124.7,146.1 125.4,151.6 126.1,156.1 126.8,159.3 127.5,162.5 128.2,163.4 128.9,164.4 129.6,165.0 130.3,165.5 131.0,164.8 131.7,165.0 132.4,164.5 133.1,163.9 133.8,165.0 134.5,166.0 135.2,166.2 135.9,166.4 136.6,167.2 137.3,166.6 138.0,166.4 138.7,166.3 139.4,166.0 140.1,166.3 140.8,166.7 141.5,166.7 142.2,167.0 142.9,167.6 143.6,168.0 144.3,167.8 145.0,167.8 145.7,167.3 146.4,167.6 147.1,167.3 147.8,166.6 148.5,166.7 149.2,167.1 149.9,166.5 150.6,166.6 151.3,167.9 152.0,168.3 152.7,168.4 153.4,169.5 154.1,169.4 154.8,167.4 155.5,166.5 156.2,165.9 156.9,165.6 157.6,166.2 158.3,166.4 159.0,167.6 159.7,168.2 160.4,168.3 161.1,168.1 161.8,168.9 162.5,168.2 163.2,168.1 163.9,167.3 164.6,166.8 165.3,166.8 166.0,166.9 166.7,167.2 167.4,167.7 168.1,167.8 168.8,168.3 169.5,167.9 170.2,166.7 170.9,165.0 171.6,165.2 172.3,164.9 173.0,165.4 173.7,165.8 174.4,167.2 175.1,167.8 175.8,167.9 176.5,167.6 177.2,167.8 177.9,168.6 178.6,167.7 179.3,166.9 180.0,166.7 180.7,167.0 181.4,167.1 182.1,167.9 182.8,168.9 183.5,169.3 184.2,169.7 184.9,169.4 185.6,169.2 186.3,169.3 187.0,169.2 187.7,169.8 188.4,168.9 189.1,169.0 189.8,168.3 190.5,169.1 191.2,168.3 191.9,169.4 192.6,169.5 193.3,169.6 194.0,169.4 194.7,168.7 195.4,168.8 196.1,168.5 196.8,168.5 197.5,168.7 198.2,170.0 198.9,170.4 199.6,169.5 200.3,169.1 201.0,168.7 201.7,167.9 202.4,167.0 203.1,168.3 203.8,169.2 204.5,168.5 205.2,169.0 205.9,169.5 206.6,169.1 207.3,168.7 208.0,169.3 208.7,169.0 209.4,168.8 210.1,168.6 210.8,168.7 211.5,168.9 212.2,169.3 212.9,169.6 213.6,169.8 214.3,169.9 215.0,170.2 215.7,170.3 216.4,170.2 217.1,170.2 217.8,170.4 218.5,170.8 219.2,169.8 219.9,169.5 220.6,169.0 221.3,169.0 222.0,168.5 222.7,169.4 223.4,169.7 224.1,170.2 224.8,169.1 225.5,168.3 226.2,168.5 226.9,168.6 227.6,168.5 228.3,168.9 229.0,170.3 229.7,169.2 230.4,168.8 231.1,168.9 231.8,169.6 232.5,168.6 233.2,169.6 233.9,169.8 234.6,169.6 235.3,169.1 236.0,169.2 236.7,168.8 237.4,168.1 238.1,167.6 238.8,167.8 239.5,167.4 240.2,166.4 240.9,166.0 241.6,165.7 242.3,165.2 243.0,164.3 243.7,164.6 244.4,165.0 245.1,165.4 245.8,166.1 246.5,167.3 247.2,168.3 247.9,169.0 248.6,170.0 249.3,170.6 250.0,170.6 250.7,170.6 251.4,170.0 252.1,169.7 252.8,169.1 253.5,169.5 254.2,170.2 254.9,171.6 255.6,171.6 256.3,172.2 257.0,172.1 257.7,172.0 258.4,171.8 259.1,172.5 259.8,173.4 260.5,173.9 261.2,173.4 261.9,173.4 262.6,172.8 263.3,171.9 264.0,171.6 264.7,171.0 265.4,170.8 266.1,170.8 266.8,171.5 267.5,171.8 268.2,172.5 268.9,172.7 269.6,172.0 270.3,171.9 271.0,171.8 271.7,172.5 272.4,171.5 273.1,172.6 273.8,172.2 274.5,171.1 275.2,170.4 275.9,171.2 276.6,171.3 277.3,171.5 278.0,172.0 278.7,172.4 279.4,172.6 280.1,171.8 280.8,171.2 281.5,171.6 282.2,171.6 282.9,172.1 283.6,172.5 284.3,173.6 285.0,173.9 285.7,174.6 286.4,173.6 287.1,173.7 287.8,173.2 288.5,172.7 289.2,172.0 289.9,172.7 290.6,172.7 291.3,172.8 292.0,172.2 292.7,171.8 293.4,171.3 294.1,171.0 294.8,171.0 295.5,171.0 296.2,171.4 296.9,171.0 297.6,171.6 298.3,171.7 299.0,172.2 299.7,171.8 300.4,171.7 301.1,171.8 301.8,171.9 302.5,172.6 303.2,172.8 303.9,173.6 304.6,173.3 305.3,172.8 306.0,172.6 306.7,173.5 307.4,173.6 308.1,173.8 308.8,174.1 309.5,174.5 310.2,174.6 310.9,174.0 311.6,173.9 312.3,173.9 313.0,173.7 313.7,173.2 314.4,174.1 315.1,174.0 315.8,174.4 316.5,173.9 317.2,173.4 317.9,172.9 318.6,173.0 319.3,173.7 320.0,173.8 320.7,173.6 321.4,173.3 322.1,174.0 322.8,172.7 323.5,172.9 324.2,173.6 324.9,174.2 325.6,173.6 326.3,173.8 327.0,173.4 327.7,172.7 328.4,172.4 329.1,172.4 329.8,172.7 330.5,173.0 331.2,173.0 331.9,173.7 332.6,173.3 333.3,172.7 334.0,172.3 334.7,172.5 335.4,171.6 336.1,170.4 336.8,170.5 337.5,169.6 338.2,168.9 338.9,167.9 339.6,167.6 340.3,165.4 341.0,163.3 341.7,162.3 342.4,161.0 343.1,160.8 343.8,161.6 344.5,163.1 345.2,164.1 345.9,165.1 346.6,165.8 347.3,167.1 348.0,167.9 348.7,168.4 349.4,168.6 350.1,169.5 350.8,169.6 351.5,170.1 352.2,170.4 352.9,170.3 353.6,169.6 354.3,169.6 355.0,169.1 355.7,169.7 356.4,170.1 357.1,170.1 357.8,170.2 358.5,171.5 359.2,171.8 359.9,172.1 360.6,173.0 361.3,173.4 362.0,172.8 362.7,172.2 363.4,172.5 364.1,172.8 364.8,172.9 365.5,173.0 366.2,173.5 366.9,173.5 367.6,173.6 368.3,173.4 369.0,173.1 369.7,172.3 370.4,174.0 371.1,174.2 371.8,175.0 372.5,175.5 373.2,175.7 373.9,174.5 374.6,174.4 375.3,174.2 376.0,174.3 376.7,175.4 377.4,174.5 378.1,174.3 378.8,174.8 379.5,175.0 380.2,174.6 380.9,176.0 381.6,176.4 382.3,177.2 383.0,177.5 383.7,177.6 384.4,176.4 385.1,175.9 385.8,174.7 386.5,174.1 387.2,173.8 387.9,173.9 388.6,174.9 389.3,174.9 390.0,174.9 390.7,174.6 391.4,175.5 392.1,175.1 392.8,175.0 393.5,174.8 394.2,175.1 394.9,174.8 395.6,174.8 396.3,174.2 397.0,173.2 397.7,171.9 398.4,171.5 399.1,169.4 399.8,169.0 400.5,168.9 401.2,169.4 401.9,167.8 402.6,168.0 403.3,168.0 404.0,168.3 404.7,168.6 405.4,168.4 406.1,168.8 406.8,168.6 407.5,167.4 408.2,166.7 408.9,167.1 409.6,166.9 410.3,166.3 411.0,167.1 411.7,167.9 412.4,168.6 413.1,169.2 413.8,169.8 414.5,170.4 415.2,170.8 415.9,170.7 416.6,170.5 417.3,171.2 418.0,172.1 418.7,172.0 419.4,171.7 420.1,172.0 420.8,172.3 421.5,172.1 422.2,171.7 422.9,171.9 423.6,172.2 424.3,173.0 425.0,172.7 425.7,172.8 426.4,173.1 427.1,172.8 427.8,171.3 428.5,170.7 429.2,171.0 429.9,171.2 430.6,172.2 431.3,173.2 432.0,174.0 432.7,174.0 433.4,173.9 434.1,173.1 434.8,173.3 435.5,173.0 436.2,172.9 436.9,173.4 437.6,173.5 438.3,173.3 439.0,173.8 439.7,174.0 440.4,173.9 441.1,174.6 441.8,174.9 442.5,175.1 443.2,175.1 443.9,174.4 444.6,174.0 445.3,174.1 446.0,174.1 446.7,173.5 447.4,173.6 448.1,173.1 448.8,172.5 449.5,172.7 450.2,173.2 450.9,173.7 451.6,174.7 452.3,174.6 453.0,173.5 453.7,173.1 454.4,172.6 455.1,172.7 455.8,173.1 456.5,173.6 457.2,174.4 457.9,175.9 458.6,175.3 459.3,175.5 460.0,175.8 460.7,175.5 461.4,174.5 462.1,174.5 462.8,174.2 463.5,174.0 464.2,174.1 464.9,174.6 465.6,174.7 466.3,174.8 467.0,174.3 467.7,173.9 468.4,173.8 469.1,173.9 469.8,173.1 470.5,173.7 471.2,173.5 471.9,173.1 472.6,173.5 473.3,173.7 474.0,173.7 474.7,175.0 475.4,175.6 476.1,175.6 476.8,176.1 477.5,175.5 478.2,174.4 478.9,173.6 479.6,172.8 480.3,172.1 481.0,171.7 481.7,172.1 482.4,171.3 483.1,171.3 483.8,170.9 484.5,170.7 485.2,169.4 485.9,169.7 486.6,170.4 487.3,170.8 488.0,171.2 488.7,171.8 489.4,172.1 490.1,171.0 490.8,171.0 491.5,171.4 492.2,171.9 492.9,172.2 493.6,172.5 494.3,173.1 495.0,172.9 495.7,172.8 496.4,173.3 497.1,174.0 497.8,174.2 498.5,174.5 499.2,174.4 499.9,174.2 500.6,174.1 501.3,174.5 502.0,174.2 502.7,174.5 503.4,174.5 504.1,174.7 504.8,174.4 505.5,174.6 506.2,175.6 506.9,176.4 507.6,176.3 508.3,177.1 509.0,176.8 509.7,176.5 510.4,175.1 511.1,175.5 511.8,174.9 512.5,175.4 513.2,175.4 513.9,176.5 514.6,176.3 515.3,175.7 516.0,175.6 516.7,174.8 517.4,174.3 518.1,175.1 518.8,175.5 519.5,176.0 520.2,176.5 520.9,176.1 521.6,175.4 522.3,174.5 523.0,174.0 523.7,173.5 524.4,173.8 525.1,173.7 525.8,174.6 526.5,174.5 527.2,174.6 527.9,175.0 528.6,175.1 529.3,174.4 530.0,173.9 530.7,174.4 531.4,174.0 532.1,173.8 532.8,174.2 533.5,174.2 534.2,173.8 534.9,173.5 535.6,173.4 536.3,173.0 537.0,173.1 537.7,173.2 538.4,172.8 539.1,172.6 539.8,172.6 540.5,173.0 541.2,173.3 541.9,173.6 542.6,173.5 543.3,173.6 544.0,173.6 544.7,172.9 545.4,172.6 546.1,172.6 546.8,172.9 547.5,172.1 548.2,172.3 548.9,172.1 549.6,172.2 550.3,171.9 551.0,172.6 551.7,173.2 552.4,173.2 553.1,174.0 553.8,174.1 554.5,174.7 555.2,174.4 555.9,174.2 556.6,173.0 557.3,172.9 558.0,172.9 558.7,172.8 559.4,173.3 560.1,174.3 560.8,174.4 561.5,173.7 562.2,174.1 562.9,174.9 563.6,173.9 564.3,174.4 565.0,173.9 565.7,173.9 566.4,174.5 567.1,175.3 567.8,175.3 568.5,176.3 569.2,176.1 569.9,175.4 570.6,175.6 571.3,175.0 572.0,175.2 572.7,175.8 573.4,175.8 574.1,175.9 574.8,176.0 575.5,175.3 576.2,175.1 576.9,174.1 577.6,173.1 578.3,173.6 579.0,174.4 579.7,174.3 580.4,174.0 581.1,174.8 581.8,174.8 582.5,174.2 583.2,174.3 583.9,175.3 584.6,174.5 585.3,173.5 586.0,173.9 586.7,172.8 587.4,172.8 588.1,172.9 588.8,173.5 589.5,173.4 590.2,174.3 590.9,174.3 591.6,174.5 592.3,174.6 593.0,174.2 593.7,173.6 594.4,172.4 595.1,172.4 595.8,171.9 596.5,171.7 597.2,172.8 597.9,173.8 598.6,173.8 599.3,174.0 600.0,173.5 600.7,172.6 601.4,172.2 602.1,171.7 602.8,171.7 603.5,171.9 604.2,171.3 604.9,172.0 605.6,172.3 606.3,172.4 607.0,172.1 607.7,172.9 608.4,172.7 609.1,172.8 609.8,172.4 610.5,172.1 611.2,171.3 611.9,171.2 612.6,171.4 613.3,172.9 614.0,173.7 614.7,174.8 615.4,174.7 616.1,174.7 616.8,174.4 617.5,174.3 618.2,173.4 618.9,174.1 619.6,173.0 620.3,173.1 621.0,173.4 621.7,174.6 622.4,174.3 623.1,175.7 623.8,175.4 624.5,175.2 625.2,174.7 625.9,174.2 626.6,174.1 627.3,174.5 628.0,174.8 628.7,175.1 629.4,175.8 630.1,175.4 630.8,175.2 631.5,175.4 632.2,175.0 632.9,174.7 633.6,174.6 634.3,174.3 635.0,174.5 635.7,174.0 636.4,173.9 637.1,174.3 637.8,174.9 638.5,174.2 639.2,174.9 639.9,174.8 640.6,174.7 641.3,174.4 642.0,175.1 642.7,174.8 643.4,175.0 644.1,175.5 644.8,175.9 645.5,175.2 646.2,175.8 646.9,175.6 647.6,176.1 648.3,175.7 649.0,176.0 649.7,176.0 650.4,176.3 651.1,175.4 651.8,175.3 652.5,175.1 653.2,174.8 653.9,175.0"/><polyline fill="none" stroke="#CA9A1C" stroke-width="2.3" stroke-linejoin="round" points="43.5,108.2 44.2,108.2 44.9,108.4 45.6,108.2 46.3,107.5 47.0,107.0 47.7,107.3 48.4,107.1 49.1,107.6 49.8,107.9 50.5,107.8 51.2,107.8 51.9,107.3 52.6,107.6 53.3,107.9 54.0,108.5 54.7,108.4 55.4,108.7 56.1,108.2 56.8,107.7 57.5,107.2 58.2,107.2 58.9,106.7 59.6,106.6 60.3,106.7 61.0,106.9 61.7,106.8 62.4,106.7 63.1,107.1 63.8,107.2 64.5,107.3 65.2,106.6 65.9,107.2 66.6,107.0 67.3,107.3 68.0,107.1 68.7,107.7 69.4,108.0 70.1,108.0 70.8,107.9 71.5,108.6 72.2,108.7 72.9,108.4 73.6,108.4 74.3,108.1 75.0,107.7 75.7,107.7 76.4,108.0 77.1,107.9 77.8,108.0 78.5,108.7 79.2,108.5 79.9,108.6 80.6,109.1 81.3,109.0 82.0,108.6 82.7,108.5 83.4,108.6 84.1,108.4 84.8,108.2 85.5,108.0 86.2,107.4 86.9,106.4 87.6,106.9 88.3,108.2 89.0,109.3 89.7,110.1 90.4,109.0 91.1,107.5 91.8,105.8 92.5,104.4 93.2,104.0 93.9,103.6 94.6,103.0 95.3,102.3 96.0,101.4 96.7,100.7 97.4,100.6 98.1,101.4 98.8,102.4 99.5,104.0 100.2,105.6 100.9,106.7 101.6,106.8 102.3,107.1 103.0,107.8 103.7,108.2 104.4,108.0 105.1,108.5 105.8,108.4 106.5,108.0 107.2,107.9 107.9,108.5 108.6,107.8 109.3,107.7 110.0,107.6 110.7,107.3 111.4,107.1 112.1,107.2 112.8,107.0 113.5,107.1 114.2,107.0 114.9,106.3 115.6,106.1 116.3,105.4 117.0,103.9 117.7,101.4 118.4,97.8 119.1,93.6 119.8,89.7 120.5,85.3 121.2,82.7 121.9,81.5 122.6,82.5 123.3,84.5 124.0,88.1 124.7,92.3 125.4,96.9 126.1,100.2 126.8,103.2 127.5,105.3 128.2,106.7 128.9,107.8 129.6,108.2 130.3,109.1 131.0,109.6 131.7,109.8 132.4,109.6 133.1,109.6 133.8,108.7 134.5,109.2 135.2,108.9 135.9,108.8 136.6,108.7 137.3,108.5 138.0,107.3 138.7,106.1 139.4,104.6 140.1,103.4 140.8,102.4 141.5,101.6 142.2,102.7 142.9,103.9 143.6,104.9 144.3,106.2 145.0,107.2 145.7,107.6 146.4,108.6 147.1,109.3 147.8,109.2 148.5,109.4 149.2,109.8 149.9,109.6 150.6,109.2 151.3,108.9 152.0,109.3 152.7,108.7 153.4,108.4 154.1,108.5 154.8,108.6 155.5,108.2 156.2,108.2 156.9,107.9 157.6,107.8 158.3,107.8 159.0,107.8 159.7,108.1 160.4,108.3 161.1,108.5 161.8,108.9 162.5,109.2 163.2,109.2 163.9,109.2 164.6,109.4 165.3,108.9 166.0,108.1 166.7,107.2 167.4,108.2 168.1,108.0 168.8,107.6 169.5,108.1 170.2,108.5 170.9,107.8 171.6,108.0 172.3,108.3 173.0,108.4 173.7,108.5 174.4,108.2 175.1,107.9 175.8,108.3 176.5,108.6 177.2,108.7 177.9,108.6 178.6,108.8 179.3,108.4 180.0,108.8 180.7,109.0 181.4,108.9 182.1,108.7 182.8,108.9 183.5,109.1 184.2,109.3 184.9,109.5 185.6,110.2 186.3,110.9 187.0,110.7 187.7,111.1 188.4,111.0 189.1,111.0 189.8,110.8 190.5,110.5 191.2,110.2 191.9,110.7 192.6,111.1 193.3,111.3 194.0,111.2 194.7,111.7 195.4,112.0 196.1,112.1 196.8,112.6 197.5,113.2 198.2,113.5 198.9,113.5 199.6,113.4 200.3,113.0 201.0,113.2 201.7,112.6 202.4,112.3 203.1,112.5 203.8,112.2 204.5,111.8 205.2,112.0 205.9,112.1 206.6,111.5 207.3,111.9 208.0,111.7 208.7,111.8 209.4,111.2 210.1,111.4 210.8,111.7 211.5,111.7 212.2,110.9 212.9,111.5 213.6,111.4 214.3,111.0 215.0,111.1 215.7,111.2 216.4,110.7 217.1,110.6 217.8,109.9 218.5,109.7 219.2,110.1 219.9,110.4 220.6,110.9 221.3,111.4 222.0,111.2 222.7,110.1 223.4,109.7 224.1,108.3 224.8,107.9 225.5,107.8 226.2,108.3 226.9,108.7 227.6,108.9 228.3,109.3 229.0,109.8 229.7,110.1 230.4,110.1 231.1,110.3 231.8,110.2 232.5,109.6 233.2,109.1 233.9,109.0 234.6,110.0 235.3,109.5 236.0,109.5 236.7,109.6 237.4,109.4 238.1,109.3 238.8,109.4 239.5,109.8 240.2,109.7 240.9,109.7 241.6,108.8 242.3,108.1 243.0,108.2 243.7,108.0 244.4,108.1 245.1,108.0 245.8,108.5 246.5,107.9 247.2,108.1 247.9,108.1 248.6,108.5 249.3,109.2 250.0,109.7 250.7,110.2 251.4,110.6 252.1,110.8 252.8,110.6 253.5,110.8 254.2,111.3 254.9,111.4 255.6,111.6 256.3,111.8 257.0,112.2 257.7,112.6 258.4,112.9 259.1,113.0 259.8,113.1 260.5,113.2 261.2,112.0 261.9,112.1 262.6,111.6 263.3,111.4 264.0,111.5 264.7,112.3 265.4,112.6 266.1,112.9 266.8,113.8 267.5,113.8 268.2,113.7 268.9,113.3 269.6,113.4 270.3,112.8 271.0,112.9 271.7,112.8 272.4,113.2 273.1,113.7 273.8,114.1 274.5,114.3 275.2,115.0 275.9,115.0 276.6,114.9 277.3,115.2 278.0,115.0 278.7,115.0 279.4,115.4 280.1,115.6 280.8,115.3 281.5,115.9 282.2,116.2 282.9,116.6 283.6,116.1 284.3,116.3 285.0,116.0 285.7,115.2 286.4,114.2 287.1,113.7 287.8,113.6 288.5,113.4 289.2,112.4 289.9,112.6 290.6,113.1 291.3,113.2 292.0,113.0 292.7,113.8 293.4,114.2 294.1,113.7 294.8,114.1 295.5,114.2 296.2,114.0 296.9,113.2 297.6,113.8 298.3,113.2 299.0,113.4 299.7,113.7 300.4,114.4 301.1,114.7 301.8,115.0 302.5,114.7 303.2,114.7 303.9,114.9 304.6,114.9 305.3,115.3 306.0,115.0 306.7,115.2 307.4,115.0 308.1,114.8 308.8,114.3 309.5,114.8 310.2,114.9 310.9,114.8 311.6,115.5 312.3,115.7 313.0,115.8 313.7,115.5 314.4,115.3 315.1,115.1 315.8,115.0 316.5,115.0 317.2,115.6 317.9,116.1 318.6,115.7 319.3,115.9 320.0,116.2 320.7,115.8 321.4,115.6 322.1,115.4 322.8,115.4 323.5,115.4 324.2,115.9 324.9,115.9 325.6,116.1 326.3,115.4 327.0,115.0 327.7,114.1 328.4,113.5 329.1,113.1 329.8,113.7 330.5,113.3 331.2,113.4 331.9,113.0 332.6,113.6 333.3,113.4 334.0,113.2 334.7,113.3 335.4,113.5 336.1,113.3 336.8,112.6 337.5,112.0 338.2,111.6 338.9,110.7 339.6,109.3 340.3,108.0 341.0,107.4 341.7,106.2 342.4,105.8 343.1,105.9 343.8,105.9 344.5,106.9 345.2,107.3 345.9,108.1 346.6,109.2 347.3,110.2 348.0,110.5 348.7,111.3 349.4,112.3 350.1,112.3 350.8,112.6 351.5,113.1 352.2,113.8 352.9,113.8 353.6,114.1 354.3,113.8 355.0,113.6 355.7,113.1 356.4,112.7 357.1,112.6 357.8,112.8 358.5,113.4 359.2,113.9 359.9,114.5 360.6,114.3 361.3,114.3 362.0,114.1 362.7,114.2 363.4,114.5 364.1,114.7 364.8,115.1 365.5,115.2 366.2,114.8 366.9,114.3 367.6,114.5 368.3,114.4 369.0,114.6 369.7,115.1 370.4,115.6 371.1,116.1 371.8,116.0 372.5,116.0 373.2,115.8 373.9,116.0 374.6,115.9 375.3,116.0 376.0,116.1 376.7,116.1 377.4,115.6 378.1,115.0 378.8,115.1 379.5,114.3 380.2,114.2 380.9,114.1 381.6,114.1 382.3,114.0 383.0,114.1 383.7,113.6 384.4,113.6 385.1,113.9 385.8,114.0 386.5,114.2 387.2,113.9 387.9,114.1 388.6,113.7 389.3,113.8 390.0,113.5 390.7,113.4 391.4,113.5 392.1,113.5 392.8,113.6 393.5,113.8 394.2,113.9 394.9,113.6 395.6,114.1 396.3,114.0 397.0,114.0 397.7,114.2 398.4,113.8 399.1,113.2 399.8,112.1 400.5,110.5 401.2,109.0 401.9,108.4 402.6,107.3 403.3,107.1 404.0,107.1 404.7,107.5 405.4,107.4 406.1,108.2 406.8,108.9 407.5,109.5 408.2,109.9 408.9,110.4 409.6,110.3 410.3,110.3 411.0,110.3 411.7,110.5 412.4,110.8 413.1,111.4 413.8,111.1 414.5,112.2 415.2,112.5 415.9,112.5 416.6,112.4 417.3,112.9 418.0,112.4 418.7,112.4 419.4,113.0 420.1,113.0 420.8,113.2 421.5,112.9 422.2,113.4 422.9,113.1 423.6,113.7 424.3,114.2 425.0,115.3 425.7,115.3 426.4,115.0 427.1,114.8 427.8,114.3 428.5,114.1 429.2,113.9 429.9,114.2 430.6,114.4 431.3,114.9 432.0,115.3 432.7,114.9 433.4,115.6 434.1,115.6 434.8,115.8 435.5,116.0 436.2,116.3 436.9,115.9 437.6,116.0 438.3,115.6 439.0,115.3 439.7,115.9 440.4,115.8 441.1,115.9 441.8,116.0 442.5,115.9 443.2,115.9 443.9,115.8 444.6,116.2 445.3,116.0 446.0,115.8 446.7,115.7 447.4,115.8 448.1,115.3 448.8,115.5 449.5,115.5 450.2,115.6 450.9,115.8 451.6,115.2 452.3,115.2 453.0,115.6 453.7,115.2 454.4,115.0 455.1,115.1 455.8,115.3 456.5,115.6 457.2,115.8 457.9,116.0 458.6,116.3 459.3,116.2 460.0,115.9 460.7,116.0 461.4,115.5 462.1,115.4 462.8,115.2 463.5,114.9 464.2,115.0 464.9,115.3 465.6,115.3 466.3,115.5 467.0,115.9 467.7,115.5 468.4,114.9 469.1,114.8 469.8,114.7 470.5,114.0 471.2,114.0 471.9,114.6 472.6,114.1 473.3,114.0 474.0,114.2 474.7,114.0 475.4,113.7 476.1,113.7 476.8,113.8 477.5,113.5 478.2,113.4 478.9,112.8 479.6,113.0 480.3,112.8 481.0,112.6 481.7,112.2 482.4,112.6 483.1,112.5 483.8,111.8 484.5,111.8 485.2,112.0 485.9,112.4 486.6,112.3 487.3,112.3 488.0,113.0 488.7,113.1 489.4,112.7 490.1,112.5 490.8,112.5 491.5,112.9 492.2,113.6 492.9,113.7 493.6,114.0 494.3,114.1 495.0,113.5 495.7,113.3 496.4,113.2 497.1,112.8 497.8,113.3 498.5,112.8 499.2,113.0 499.9,113.5 500.6,114.0 501.3,114.2 502.0,114.5 502.7,113.9 503.4,113.8 504.1,113.8 504.8,113.7 505.5,114.2 506.2,114.7 506.9,115.0 507.6,114.9 508.3,114.8 509.0,114.6 509.7,114.3 510.4,113.9 511.1,113.7 511.8,114.4 512.5,114.9 513.2,115.3 513.9,115.3 514.6,115.2 515.3,114.9 516.0,114.7 516.7,114.5 517.4,114.9 518.1,114.9 518.8,114.4 519.5,114.6 520.2,114.9 520.9,115.2 521.6,115.6 522.3,115.7 523.0,115.4 523.7,115.3 524.4,115.0 525.1,115.1 525.8,115.5 526.5,115.8 527.2,115.4 527.9,115.6 528.6,116.1 529.3,115.7 530.0,115.4 530.7,115.5 531.4,114.8 532.1,113.8 532.8,113.7 533.5,113.7 534.2,114.0 534.9,114.2 535.6,114.7 536.3,115.2 537.0,115.5 537.7,114.8 538.4,114.9 539.1,114.4 539.8,114.2 540.5,113.1 541.2,112.9 541.9,112.3 542.6,112.6 543.3,111.9 544.0,111.7 544.7,111.9 545.4,112.0 546.1,111.9 546.8,111.8 547.5,112.1 548.2,113.2 548.9,113.7 549.6,114.0 550.3,114.3 551.0,114.5 551.7,114.0 552.4,113.8 553.1,113.6 553.8,113.7 554.5,114.0 555.2,113.9 555.9,114.0 556.6,114.9 557.3,115.1 558.0,115.1 558.7,115.4 559.4,115.5 560.1,115.7 560.8,115.9 561.5,116.1 562.2,115.7 562.9,115.4 563.6,115.0 564.3,115.1 565.0,114.4 565.7,114.3 566.4,114.8 567.1,114.5 567.8,114.5 568.5,115.2 569.2,116.2 569.9,116.3 570.6,116.0 571.3,115.8 572.0,116.1 572.7,115.1 573.4,115.3 574.1,115.4 574.8,115.1 575.5,114.6 576.2,114.8 576.9,115.2 577.6,114.7 578.3,114.9 579.0,114.8 579.7,115.1 580.4,114.3 581.1,114.4 581.8,114.8 582.5,115.4 583.2,114.8 583.9,114.8 584.6,114.9 585.3,114.4 586.0,114.3 586.7,114.9 587.4,114.8 588.1,115.0 588.8,115.3 589.5,114.9 590.2,114.7 590.9,115.2 591.6,114.6 592.3,114.8 593.0,114.6 593.7,115.0 594.4,114.8 595.1,115.4 595.8,115.1 596.5,115.6 597.2,115.1 597.9,114.1 598.6,114.1 599.3,113.9 600.0,114.3 600.7,114.6 601.4,114.8 602.1,115.0 602.8,115.0 603.5,114.5 604.2,113.9 604.9,114.6 605.6,114.4 606.3,114.3 607.0,114.8 607.7,115.0 608.4,114.2 609.1,114.2 609.8,114.3 610.5,114.3 611.2,114.3 611.9,114.5 612.6,114.5 613.3,114.7 614.0,113.9 614.7,113.7 615.4,113.7 616.1,113.7 616.8,113.6 617.5,113.9 618.2,114.2 618.9,114.6 619.6,114.7 620.3,114.7 621.0,114.3 621.7,114.9 622.4,115.3 623.1,115.6 623.8,115.5 624.5,116.2 625.2,115.9 625.9,115.4 626.6,115.7 627.3,115.7 628.0,116.1 628.7,116.2 629.4,116.3 630.1,115.9 630.8,116.2 631.5,115.3 632.2,115.0 632.9,115.4 633.6,115.5 634.3,115.5 635.0,116.2 635.7,116.4 636.4,116.3 637.1,116.4 637.8,116.6 638.5,116.1 639.2,116.1 639.9,116.0 640.6,116.0 641.3,115.2 642.0,115.1 642.7,115.1 643.4,114.2 644.1,113.5 644.8,114.2 645.5,114.4 646.2,114.8 646.9,115.1 647.6,115.8 648.3,115.7 649.0,115.5 649.7,115.1 650.4,115.7 651.1,115.9 651.8,115.7 652.5,115.8 653.2,116.0 653.9,116.3"/><polyline fill="none" stroke="#22BFC2" stroke-width="2.3" stroke-linejoin="round" points="43.5,62.8 44.2,62.4 44.9,62.0 45.6,61.7 46.3,61.4 47.0,61.0 47.7,61.4 48.4,61.0 49.1,61.4 49.8,61.3 50.5,61.6 51.2,61.4 51.9,61.7 52.6,61.8 53.3,61.9 54.0,61.6 54.7,61.7 55.4,62.1 56.1,62.1 56.8,61.9 57.5,61.9 58.2,62.1 58.9,61.7 59.6,61.7 60.3,62.1 61.0,62.2 61.7,62.1 62.4,62.5 63.1,62.8 63.8,62.4 64.5,62.6 65.2,62.7 65.9,62.7 66.6,62.3 67.3,62.2 68.0,62.5 68.7,62.2 69.4,62.0 70.1,62.0 70.8,62.2 71.5,62.2 72.2,62.0 72.9,62.0 73.6,61.4 74.3,60.9 75.0,60.5 75.7,61.1 76.4,60.8 77.1,61.3 77.8,61.8 78.5,62.0 79.2,61.9 79.9,62.3 80.6,61.9 81.3,62.0 82.0,62.0 82.7,61.4 83.4,61.4 84.1,62.0 84.8,62.0 85.5,61.9 86.2,62.5 86.9,62.5 87.6,62.4 88.3,62.3 89.0,62.3 89.7,62.6 90.4,62.3 91.1,62.6 91.8,62.5 92.5,62.3 93.2,61.9 93.9,62.1 94.6,61.7 95.3,60.7 96.0,60.5 96.7,59.8 97.4,58.9 98.1,58.1 98.8,58.8 99.5,58.2 100.2,58.8 100.9,59.6 101.6,59.8 102.3,60.0 103.0,60.3 103.7,60.5 104.4,60.8 105.1,61.7 105.8,61.3 106.5,61.5 107.2,61.3 107.9,61.4 108.6,61.0 109.3,61.0 110.0,61.2 110.7,60.8 111.4,60.5 112.1,59.8 112.8,59.8 113.5,59.3 114.2,58.8 114.9,57.6 115.6,56.1 116.3,54.2 117.0,52.4 117.7,50.5 118.4,48.2 119.1,47.0 119.8,45.2 120.5,43.6 121.2,42.5 121.9,42.2 122.6,41.9 123.3,43.3 124.0,45.0 124.7,46.5 125.4,48.4 126.1,51.0 126.8,52.7 127.5,54.2 128.2,56.3 128.9,58.0 129.6,59.4 130.3,60.5 131.0,61.6 131.7,62.4 132.4,63.1 133.1,62.5 133.8,62.4 134.5,62.3 135.2,61.7 135.9,61.2 136.6,61.7 137.3,61.8 138.0,60.7 138.7,59.2 139.4,56.8 140.1,54.4 140.8,51.3 141.5,49.2 142.2,48.1 142.9,48.5 143.6,49.6 144.3,51.7 145.0,54.3 145.7,56.5 146.4,58.6 147.1,60.2 147.8,61.9 148.5,62.8 149.2,63.4 149.9,63.4 150.6,63.7 151.3,63.8 152.0,64.0 152.7,64.9 153.4,65.0 154.1,64.5 154.8,64.2 155.5,64.0 156.2,63.7 156.9,64.2 157.6,64.2 158.3,63.7 159.0,63.5 159.7,63.1 160.4,63.3 161.1,63.5 161.8,64.4 162.5,64.9 163.2,65.3 163.9,65.4 164.6,65.9 165.3,65.8 166.0,65.5 166.7,65.5 167.4,65.6 168.1,65.9 168.8,65.8 169.5,65.2 170.2,65.1 170.9,64.4 171.6,63.4 172.3,62.2 173.0,62.1 173.7,61.0 174.4,60.4 175.1,59.9 175.8,59.9 176.5,60.7 177.2,61.3 177.9,62.0 178.6,63.0 179.3,63.9 180.0,64.1 180.7,64.2 181.4,64.7 182.1,64.7 182.8,64.7 183.5,64.4 184.2,64.8 184.9,64.5 185.6,64.4 186.3,64.6 187.0,64.9 187.7,64.8 188.4,64.7 189.1,64.7 189.8,64.2 190.5,64.2 191.2,64.0 191.9,64.0 192.6,64.0 193.3,64.7 194.0,64.6 194.7,64.9 195.4,65.5 196.1,65.6 196.8,65.3 197.5,65.2 198.2,65.0 198.9,65.1 199.6,65.1 200.3,65.1 201.0,65.0 201.7,65.2 202.4,64.7 203.1,65.0 203.8,65.6 204.5,66.0 205.2,66.5 205.9,66.5 206.6,65.9 207.3,65.5 208.0,65.3 208.7,64.8 209.4,65.0 210.1,65.7 210.8,65.7 211.5,65.2 212.2,65.2 212.9,65.1 213.6,64.7 214.3,65.1 215.0,65.9 215.7,65.8 216.4,65.8 217.1,66.0 217.8,65.8 218.5,65.5 219.2,65.2 219.9,64.9 220.6,65.0 221.3,64.9 222.0,64.2 222.7,64.3 223.4,63.7 224.1,62.2 224.8,60.6 225.5,59.8 226.2,59.2 226.9,59.3 227.6,60.0 228.3,61.1 229.0,62.5 229.7,63.7 230.4,63.9 231.1,64.4 231.8,64.7 232.5,64.1 233.2,63.8 233.9,63.9 234.6,63.8 235.3,63.7 236.0,64.0 236.7,64.3 237.4,64.2 238.1,64.2 238.8,64.1 239.5,64.3 240.2,64.1 240.9,64.2 241.6,63.7 242.3,64.3 243.0,64.5 243.7,64.3 244.4,64.8 245.1,65.1 245.8,64.8 246.5,64.5 247.2,64.8 247.9,64.2 248.6,64.9 249.3,64.8 250.0,64.7 250.7,64.7 251.4,65.2 252.1,64.8 252.8,65.0 253.5,65.6 254.2,66.8 254.9,66.9 255.6,67.2 256.3,67.7 257.0,67.7 257.7,66.5 258.4,66.2 259.1,66.0 259.8,65.9 260.5,66.3 261.2,66.6 261.9,66.9 262.6,67.5 263.3,67.1 264.0,66.2 264.7,66.4 265.4,66.2 266.1,66.1 266.8,66.2 267.5,66.2 268.2,66.2 268.9,67.0 269.6,67.0 270.3,66.3 271.0,66.3 271.7,65.8 272.4,65.6 273.1,64.8 273.8,65.5 274.5,65.2 275.2,64.9 275.9,63.9 276.6,63.6 277.3,63.4 278.0,63.8 278.7,64.5 279.4,64.8 280.1,65.9 280.8,66.5 281.5,66.7 282.2,66.8 282.9,67.1 283.6,66.8 284.3,66.1 285.0,66.6 285.7,67.1 286.4,67.4 287.1,67.7 287.8,68.4 288.5,68.0 289.2,67.1 289.9,66.9 290.6,66.7 291.3,67.0 292.0,67.1 292.7,68.0 293.4,68.1 294.1,67.8 294.8,67.4 295.5,67.1 296.2,67.1 296.9,67.6 297.6,68.1 298.3,67.6 299.0,68.1 299.7,67.7 300.4,67.5 301.1,67.4 301.8,67.9 302.5,67.9 303.2,68.1 303.9,68.2 304.6,68.3 305.3,68.3 306.0,68.0 306.7,68.5 307.4,68.7 308.1,69.1 308.8,69.5 309.5,69.6 310.2,69.2 310.9,69.3 311.6,69.1 312.3,69.3 313.0,69.2 313.7,69.2 314.4,68.9 315.1,69.0 315.8,68.3 316.5,68.6 317.2,68.1 317.9,67.9 318.6,67.3 319.3,67.8 320.0,68.1 320.7,68.3 321.4,68.4 322.1,68.6 322.8,68.2 323.5,68.0 324.2,68.0 324.9,67.6 325.6,67.3 326.3,67.3 327.0,67.3 327.7,67.4 328.4,67.4 329.1,67.6 329.8,67.9 330.5,68.1 331.2,68.0 331.9,68.1 332.6,67.6 333.3,67.1 334.0,67.0 334.7,66.7 335.4,66.1 336.1,66.1 336.8,65.8 337.5,65.1 338.2,64.5 338.9,64.0 339.6,63.2 340.3,63.0 341.0,62.1 341.7,61.8 342.4,62.1 343.1,61.3 343.8,61.1 344.5,61.3 345.2,61.0 345.9,60.6 346.6,61.1 347.3,61.2 348.0,61.9 348.7,62.5 349.4,63.3 350.1,63.9 350.8,63.9 351.5,64.2 352.2,64.1 352.9,64.1 353.6,64.6 354.3,65.3 355.0,65.2 355.7,65.9 356.4,66.0 357.1,66.2 357.8,66.0 358.5,65.7 359.2,66.6 359.9,67.8 360.6,68.0 361.3,68.3 362.0,68.9 362.7,68.4 363.4,68.0 364.1,67.5 364.8,68.3 365.5,68.4 366.2,68.8 366.9,68.7 367.6,68.4 368.3,67.9 369.0,68.2 369.7,68.0 370.4,68.4 371.1,69.5 371.8,68.8 372.5,68.5 373.2,69.1 373.9,69.1 374.6,69.1 375.3,69.7 376.0,69.0 376.7,68.8 377.4,68.8 378.1,68.4 378.8,68.5 379.5,69.4 380.2,68.8 380.9,68.6 381.6,68.6 382.3,68.2 383.0,68.2 383.7,68.7 384.4,68.7 385.1,69.1 385.8,68.8 386.5,68.5 387.2,68.6 387.9,68.5 388.6,68.0 389.3,67.8 390.0,67.8 390.7,67.8 391.4,67.5 392.1,67.4 392.8,67.6 393.5,67.2 394.2,66.8 394.9,66.9 395.6,66.8 396.3,67.0 397.0,67.3 397.7,67.2 398.4,66.6 399.1,65.7 399.8,64.3 400.5,62.5 401.2,60.7 401.9,59.1 402.6,58.2 403.3,57.6 404.0,58.3 404.7,59.0 405.4,60.7 406.1,61.8 406.8,63.9 407.5,65.0 408.2,66.5 408.9,67.5 409.6,68.0 410.3,67.7 411.0,67.4 411.7,66.9 412.4,66.9 413.1,67.5 413.8,67.8 414.5,68.0 415.2,68.0 415.9,67.1 416.6,66.5 417.3,66.3 418.0,65.8 418.7,66.0 419.4,66.1 420.1,65.4 420.8,64.7 421.5,64.4 422.2,63.5 422.9,62.9 423.6,63.4 424.3,63.9 425.0,64.3 425.7,64.7 426.4,65.0 427.1,65.3 427.8,65.1 428.5,65.3 429.2,66.0 429.9,66.5 430.6,66.5 431.3,66.8 432.0,67.4 432.7,67.3 433.4,67.6 434.1,68.1 434.8,68.3 435.5,68.2 436.2,68.0 436.9,67.9 437.6,67.4 438.3,67.6 439.0,67.4 439.7,67.6 440.4,67.7 441.1,68.2 441.8,68.8 442.5,69.1 443.2,69.9 443.9,70.1 444.6,70.0 445.3,69.5 446.0,69.6 446.7,69.5 447.4,69.2 448.1,69.9 448.8,70.3 449.5,69.9 450.2,70.1 450.9,70.7 451.6,70.2 452.3,70.4 453.0,70.1 453.7,70.0 454.4,69.2 455.1,69.5 455.8,68.8 456.5,68.6 457.2,68.6 457.9,69.3 458.6,68.9 459.3,69.2 460.0,69.9 460.7,69.5 461.4,69.0 462.1,69.3 462.8,68.7 463.5,68.7 464.2,68.5 464.9,67.8 465.6,67.8 466.3,68.6 467.0,68.1 467.7,68.5 468.4,68.7 469.1,68.0 469.8,67.9 470.5,68.2 471.2,67.9 471.9,68.1 472.6,68.3 473.3,68.0 474.0,67.5 474.7,67.1 475.4,67.0 476.1,66.3 476.8,65.9 477.5,65.9 478.2,66.1 478.9,65.6 479.6,66.3 480.3,66.0 481.0,66.2 481.7,66.2 482.4,66.4 483.1,65.6 483.8,65.9 484.5,65.8 485.2,66.0 485.9,65.8 486.6,66.0 487.3,66.0 488.0,66.0 488.7,66.0 489.4,65.9 490.1,65.9 490.8,65.9 491.5,66.3 492.2,67.0 492.9,67.1 493.6,67.6 494.3,68.1 495.0,67.6 495.7,67.0 496.4,67.0 497.1,67.2 497.8,67.5 498.5,68.3 499.2,69.0 499.9,69.3 500.6,68.7 501.3,67.8 502.0,67.9 502.7,67.3 503.4,67.0 504.1,67.7 504.8,67.9 505.5,67.8 506.2,68.4 506.9,68.4 507.6,67.7 508.3,68.1 509.0,67.6 509.7,67.5 510.4,67.5 511.1,68.1 511.8,68.1 512.5,68.4 513.2,68.1 513.9,68.8 514.6,68.2 515.3,68.3 516.0,68.5 516.7,68.9 517.4,68.7 518.1,69.6 518.8,69.8 519.5,69.8 520.2,69.9 520.9,70.4 521.6,70.0 522.3,69.7 523.0,69.9 523.7,69.4 524.4,68.7 525.1,69.0 525.8,69.3 526.5,69.1 527.2,69.3 527.9,69.3 528.6,69.0 529.3,69.0 530.0,68.8 530.7,68.6 531.4,69.2 532.1,69.2 532.8,68.9 533.5,69.7 534.2,69.9 534.9,69.3 535.6,69.5 536.3,69.1 537.0,68.7 537.7,68.7 538.4,68.9 539.1,68.3 539.8,68.5 540.5,68.0 541.2,67.8 541.9,67.1 542.6,66.4 543.3,66.6 544.0,66.2 544.7,66.2 545.4,66.3 546.1,66.5 546.8,65.5 547.5,66.1 548.2,66.1 548.9,66.5 549.6,67.2 550.3,68.3 551.0,68.6 551.7,68.4 552.4,69.0 553.1,69.1 553.8,69.0 554.5,68.6 555.2,69.4 555.9,69.3 556.6,69.1 557.3,69.3 558.0,69.5 558.7,69.1 559.4,68.8 560.1,69.1 560.8,69.4 561.5,69.4 562.2,69.5 562.9,69.5 563.6,69.6 564.3,69.8 565.0,69.8 565.7,69.5 566.4,69.5 567.1,69.5 567.8,69.3 568.5,69.3 569.2,69.6 569.9,69.6 570.6,69.7 571.3,69.3 572.0,69.0 572.7,69.5 573.4,69.3 574.1,69.1 574.8,69.4 575.5,70.0 576.2,69.4 576.9,69.4 577.6,69.1 578.3,68.9 579.0,69.1 579.7,68.9 580.4,69.2 581.1,69.8 581.8,69.5 582.5,69.4 583.2,69.7 583.9,69.7 584.6,70.0 585.3,70.0 586.0,69.6 586.7,69.3 587.4,69.2 588.1,68.8 588.8,69.1 589.5,69.5 590.2,69.4 590.9,70.4 591.6,70.3 592.3,69.9 593.0,70.3 593.7,70.9 594.4,69.6 595.1,69.4 595.8,69.5 596.5,69.4 597.2,69.1 597.9,68.8 598.6,69.0 599.3,69.6 600.0,68.8 600.7,68.7 601.4,68.5 602.1,68.8 602.8,68.9 603.5,69.4 604.2,69.6 604.9,70.3 605.6,69.3 606.3,68.8 607.0,68.3 607.7,68.0 608.4,68.0 609.1,68.5 609.8,68.7 610.5,69.2 611.2,69.7 611.9,69.7 612.6,69.8 613.3,69.4 614.0,69.5 614.7,69.0 615.4,68.3 616.1,68.0 616.8,68.3 617.5,68.1 618.2,68.4 618.9,69.3 619.6,69.6 620.3,69.4 621.0,69.2 621.7,69.5 622.4,69.1 623.1,68.8 623.8,68.6 624.5,68.9 625.2,69.2 625.9,69.3 626.6,69.8 627.3,70.1 628.0,70.6 628.7,70.2 629.4,70.1 630.1,70.5 630.8,70.2 631.5,69.6 632.2,69.6 632.9,69.8 633.6,69.4 634.3,69.7 635.0,69.7 635.7,69.6 636.4,70.1 637.1,70.0 637.8,69.8 638.5,69.7 639.2,69.7 639.9,69.3 640.6,69.4 641.3,69.6 642.0,70.0 642.7,69.7 643.4,69.7 644.1,69.9 644.8,70.3 645.5,70.2 646.2,70.6 646.9,70.3 647.6,70.2 648.3,69.9 649.0,69.3 649.7,69.4 650.4,69.1 651.1,69.0 651.8,68.7 652.5,69.2 653.2,69.0 653.9,68.9"/>
<path d="M34.8 28.6 H43.3 V465.6" fill="none" stroke="#000" stroke-width="2"/>
<line x1="35" y1="465.6" x2="655" y2="465.6" stroke="#000" stroke-width="2.2"/>
<line x1="71.7" y1="465.6" x2="71.7" y2="473" stroke="#000" stroke-width="2"/><line x1="266.0" y1="465.6" x2="266.0" y2="473" stroke="#000" stroke-width="2"/><line x1="460.3" y1="465.6" x2="460.3" y2="473" stroke="#000" stroke-width="2"/><line x1="654.6" y1="465.6" x2="654.6" y2="473" stroke="#000" stroke-width="2"/><line x1="168.9" y1="465.6" x2="168.9" y2="469.3" stroke="#000" stroke-width="2"/><line x1="363.1" y1="465.6" x2="363.1" y2="469.3" stroke="#000" stroke-width="2"/><line x1="557.5" y1="465.6" x2="557.5" y2="469.3" stroke="#000" stroke-width="2"/>
<text x="71.7" y="492.9" text-anchor="middle" class="tl">20</text><text x="266.0" y="492.9" text-anchor="middle" class="tl">40</text><text x="460.3" y="492.9" text-anchor="middle" class="tl">60</text><text x="654.6" y="492.9" text-anchor="middle" class="tl">80</text>
<text x="669.8" y="74.8" class="cl">g</text><text x="671.5" y="122.4" class="cl">f</text><text x="669.6" y="181.0" class="cl">e</text><text x="670.1" y="245.6" class="cl">d</text><text x="671.4" y="306.6" class="cl">c</text><text x="672.4" y="380.6" class="cl">b</text><text x="672.0" y="437.2" class="cl">a</text>
<g transform="translate(137.3,37.4) rotate(-90)"><text x="0.00" y="0" class="ml">(</text><path d="M11.49 0.00 L11.49 -11.46 L9.97 -11.46 L9.52 -10.85 L8.77 -10.05 L7.73 -9.28 L6.32 -8.61 L6.32 -6.59 L7.44 -7.07 L8.46 -7.71 L9.33 -8.35 L9.33 0.00 Z" fill="#000"/><text x="14.22" y="0" class="ml">0</text><path d="M29.28 0.00 L29.28 -11.46 L27.76 -11.46 L27.31 -10.85 L26.56 -10.05 L25.52 -9.28 L24.11 -8.61 L24.11 -6.59 L25.23 -7.07 L26.26 -7.71 L27.12 -8.35 L27.12 0.00 Z" fill="#000"/><text x="32.02" y="0" class="ml">)</text></g><g transform="translate(232.4,57.2) rotate(-90)"><text x="0.00" y="0" class="ml">(</text><path d="M11.49 0.00 L11.49 -11.46 L9.97 -11.46 L9.52 -10.85 L8.77 -10.05 L7.73 -9.28 L6.32 -8.61 L6.32 -6.59 L7.44 -7.07 L8.46 -7.71 L9.33 -8.35 L9.33 0.00 Z" fill="#000"/><path d="M20.38 0.00 L20.38 -11.46 L18.86 -11.46 L18.42 -10.85 L17.66 -10.05 L16.62 -9.28 L15.22 -8.61 L15.22 -6.59 L16.34 -7.07 L17.36 -7.71 L18.22 -8.35 L18.22 0.00 Z" fill="#000"/><text x="23.12" y="0" class="ml">2</text><text x="32.02" y="0" class="ml">)</text></g><g transform="translate(350.4,62.0) rotate(-90)"><text x="0.00" y="0" class="ml">(</text><text x="5.33" y="0" class="ml">2</text><text x="14.22" y="0" class="ml">0</text><text x="23.12" y="0" class="ml">0</text><text x="32.02" y="0" class="ml">)</text></g><g transform="translate(389.8,59.2) rotate(-90)"><text x="0.00" y="0" class="ml">(</text><path d="M11.49 0.00 L11.49 -11.46 L9.97 -11.46 L9.52 -10.85 L8.77 -10.05 L7.73 -9.28 L6.32 -8.61 L6.32 -6.59 L7.44 -7.07 L8.46 -7.71 L9.33 -8.35 L9.33 0.00 Z" fill="#000"/><text x="14.22" y="0" class="ml">0</text><text x="23.12" y="0" class="ml">5</text><text x="32.02" y="0" class="ml">)</text></g><g transform="translate(419.6,55.1) rotate(-90)"><text x="0.00" y="0" class="ml">(</text><text x="5.33" y="0" class="ml">2</text><path d="M20.38 0.00 L20.38 -11.46 L18.86 -11.46 L18.42 -10.85 L17.66 -10.05 L16.62 -9.28 L15.22 -8.61 L15.22 -6.59 L16.34 -7.07 L17.36 -7.71 L18.22 -8.35 L18.22 0.00 Z" fill="#000"/><path d="M29.28 0.00 L29.28 -11.46 L27.76 -11.46 L27.31 -10.85 L26.56 -10.05 L25.52 -9.28 L24.11 -8.61 L24.11 -6.59 L25.23 -7.07 L26.26 -7.71 L27.12 -8.35 L27.12 0.00 Z" fill="#000"/><text x="32.02" y="0" class="ml">)</text></g><g transform="translate(497.2,64.0) rotate(-90)"><text x="0.00" y="0" class="ml">(</text><text x="5.33" y="0" class="ml">2</text><path d="M20.38 0.00 L20.38 -11.46 L18.86 -11.46 L18.42 -10.85 L17.66 -10.05 L16.62 -9.28 L15.22 -8.61 L15.22 -6.59 L16.34 -7.07 L17.36 -7.71 L18.22 -8.35 L18.22 0.00 Z" fill="#000"/><text x="23.12" y="0" class="ml">3</text><text x="32.02" y="0" class="ml">)</text></g>
<text x="323.2" y="517" class="at">2θ (</text><text x="368.0" y="517" class="at">)</text><circle cx="363.2" cy="503.8" r="1.5" fill="none" stroke="#000" stroke-width="1"/>
<text transform="translate(17.0,232.5) rotate(-90)" text-anchor="middle" class="at">Intensity (a.u)</text>
</svg>
</body></html>
